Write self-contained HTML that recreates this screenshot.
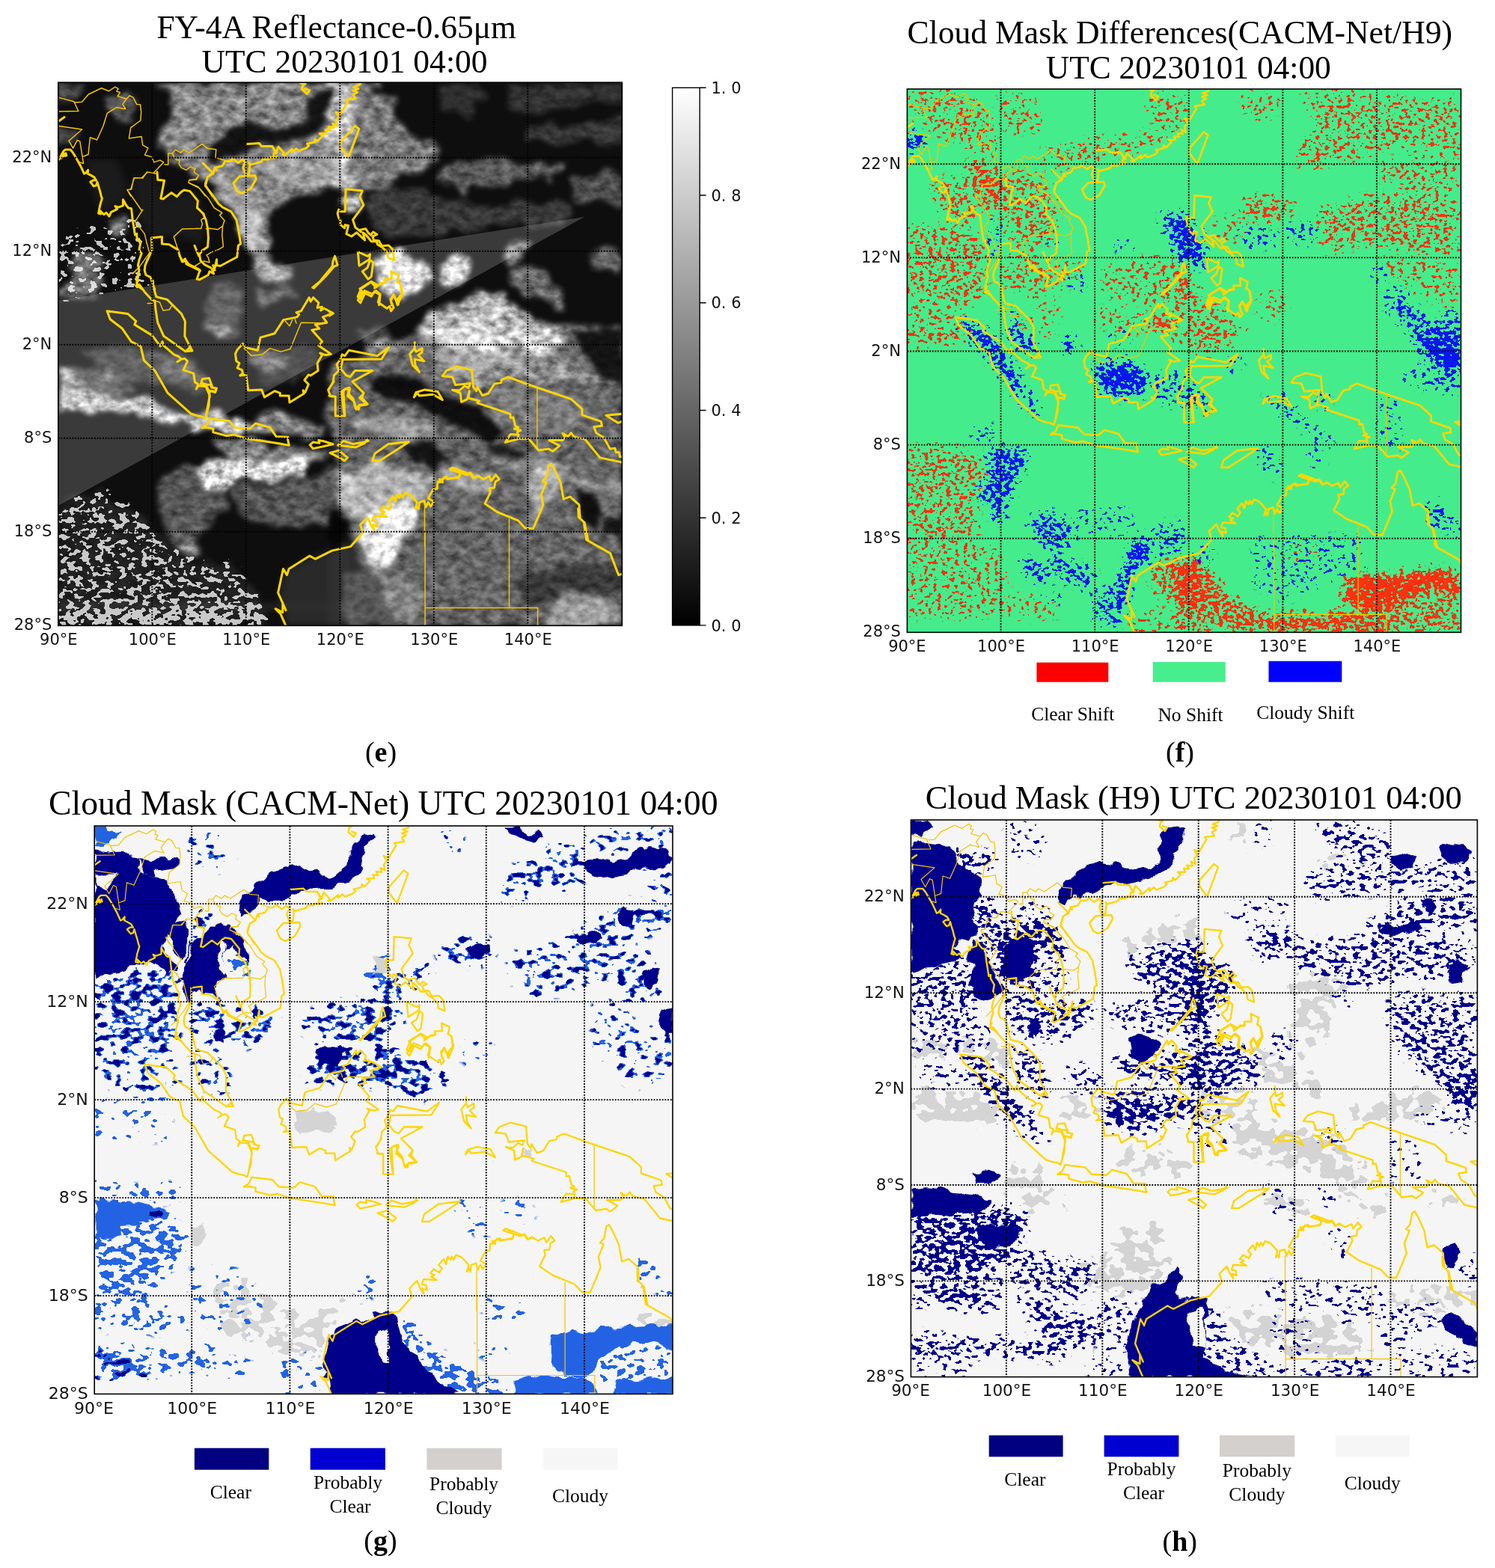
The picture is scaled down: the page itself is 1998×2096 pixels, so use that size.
<!DOCTYPE html>
<html lang="en"><head><meta charset="utf-8"><title>Cloud mask comparison UTC 20230101 04:00</title>
<style>html,body{margin:0;padding:0;background:#fff}body{width:1998px;height:2096px;overflow:hidden}svg{display:block}text{white-space:pre}</style>
</head><body>
<svg width="1998" height="2096" viewBox="0 0 1998 2096">
<defs><clipPath id="clip1"><rect x="77.8" y="110.2" width="753.6" height="726.1"/></clipPath><clipPath id="clip2"><rect x="1212.4" y="119" width="740.1" height="726.3"/></clipPath><clipPath id="clip3"><rect x="126.2" y="1104" width="772.8" height="759.4"/></clipPath><clipPath id="clip4"><rect x="1217.4" y="1096" width="757" height="744.6"/></clipPath><linearGradient id="cbar" x1="0" y1="0" x2="0" y2="1"><stop offset="0" stop-color="#fff"/><stop offset="1" stop-color="#000"/></linearGradient><filter id="rag1" x="47.8" y="80.2" width="813.6" height="786.1" filterUnits="userSpaceOnUse" color-interpolation-filters="sRGB"><feTurbulence type="fractalNoise" baseFrequency="0.06" numOctaves="2" seed="4" result="n"/><feDisplacementMap in="SourceGraphic" in2="n" scale="14" xChannelSelector="R" yChannelSelector="G"/></filter><filter id="spk1_0" x="47.8" y="80.2" width="813.6" height="786.1" filterUnits="userSpaceOnUse" color-interpolation-filters="sRGB"><feGaussianBlur in="SourceGraphic" stdDeviation="5" result="b"/><feTurbulence type="fractalNoise" baseFrequency="0.10 0.14" numOctaves="2" seed="6" result="n"/><feColorMatrix in="n" type="matrix" values="0 0 0 0 0  0 0 0 0 0  0 0 0 0 0  2.4 0 0 0 -0.7" result="na"/><feComposite in="na" in2="b" operator="arithmetic" k1="0" k2="1" k3="1" k4="-1" result="t"/><feComponentTransfer in="t" result="m"><feFuncA type="linear" slope="10" intercept="0"/></feComponentTransfer><feComposite in="b" in2="m" operator="in" result="c"/><feComponentTransfer in="c"><feFuncA type="linear" slope="40" intercept="0"/></feComponentTransfer></filter><filter id="rag2" x="1182.4" y="89" width="800.1" height="786.3" filterUnits="userSpaceOnUse" color-interpolation-filters="sRGB"><feTurbulence type="fractalNoise" baseFrequency="0.06" numOctaves="2" seed="5" result="n"/><feDisplacementMap in="SourceGraphic" in2="n" scale="14" xChannelSelector="R" yChannelSelector="G"/></filter><filter id="spk2_0" x="1182.4" y="89" width="800.1" height="786.3" filterUnits="userSpaceOnUse" color-interpolation-filters="sRGB"><feGaussianBlur in="SourceGraphic" stdDeviation="6" result="b"/><feTurbulence type="fractalNoise" baseFrequency="0.17 0.22" numOctaves="2" seed="13" result="n"/><feColorMatrix in="n" type="matrix" values="0 0 0 0 0  0 0 0 0 0  0 0 0 0 0  2.4 0 0 0 -0.7" result="na"/><feComposite in="na" in2="b" operator="arithmetic" k1="0" k2="1" k3="1" k4="-1" result="t"/><feComponentTransfer in="t" result="m"><feFuncA type="linear" slope="10" intercept="0"/></feComponentTransfer><feComposite in="b" in2="m" operator="in" result="c"/><feComponentTransfer in="c"><feFuncA type="linear" slope="40" intercept="0"/></feComponentTransfer></filter><filter id="spk2_1" x="1182.4" y="89" width="800.1" height="786.3" filterUnits="userSpaceOnUse" color-interpolation-filters="sRGB"><feGaussianBlur in="SourceGraphic" stdDeviation="6" result="b"/><feTurbulence type="fractalNoise" baseFrequency="0.16 0.21" numOctaves="2" seed="31" result="n"/><feColorMatrix in="n" type="matrix" values="0 0 0 0 0  0 0 0 0 0  0 0 0 0 0  2.4 0 0 0 -0.7" result="na"/><feComposite in="na" in2="b" operator="arithmetic" k1="0" k2="1" k3="1" k4="-1" result="t"/><feComponentTransfer in="t" result="m"><feFuncA type="linear" slope="10" intercept="0"/></feComponentTransfer><feComposite in="b" in2="m" operator="in" result="c"/><feComponentTransfer in="c"><feFuncA type="linear" slope="40" intercept="0"/></feComponentTransfer></filter><filter id="rag3" x="96.2" y="1074" width="832.8" height="819.4" filterUnits="userSpaceOnUse" color-interpolation-filters="sRGB"><feTurbulence type="fractalNoise" baseFrequency="0.06" numOctaves="2" seed="6" result="n"/><feDisplacementMap in="SourceGraphic" in2="n" scale="14" xChannelSelector="R" yChannelSelector="G"/></filter><filter id="spk3_0" x="96.2" y="1074" width="832.8" height="819.4" filterUnits="userSpaceOnUse" color-interpolation-filters="sRGB"><feGaussianBlur in="SourceGraphic" stdDeviation="6" result="b"/><feTurbulence type="fractalNoise" baseFrequency="0.08 0.12" numOctaves="2" seed="14" result="n"/><feColorMatrix in="n" type="matrix" values="0 0 0 0 0  0 0 0 0 0  0 0 0 0 0  2.4 0 0 0 -0.7" result="na"/><feComposite in="na" in2="b" operator="arithmetic" k1="0" k2="1" k3="1" k4="-1" result="t"/><feComponentTransfer in="t" result="m"><feFuncA type="linear" slope="10" intercept="0"/></feComponentTransfer><feComposite in="b" in2="m" operator="in" result="c"/><feComponentTransfer in="c"><feFuncA type="linear" slope="40" intercept="0"/></feComponentTransfer></filter><filter id="spk3_1" x="96.2" y="1074" width="832.8" height="819.4" filterUnits="userSpaceOnUse" color-interpolation-filters="sRGB"><feGaussianBlur in="SourceGraphic" stdDeviation="6" result="b"/><feTurbulence type="fractalNoise" baseFrequency="0.09 0.12" numOctaves="2" seed="26" result="n"/><feColorMatrix in="n" type="matrix" values="0 0 0 0 0  0 0 0 0 0  0 0 0 0 0  2.4 0 0 0 -0.7" result="na"/><feComposite in="na" in2="b" operator="arithmetic" k1="0" k2="1" k3="1" k4="-1" result="t"/><feComponentTransfer in="t" result="m"><feFuncA type="linear" slope="10" intercept="0"/></feComponentTransfer><feComposite in="b" in2="m" operator="in" result="c"/><feComponentTransfer in="c"><feFuncA type="linear" slope="40" intercept="0"/></feComponentTransfer></filter><filter id="spk3_2" x="96.2" y="1074" width="832.8" height="819.4" filterUnits="userSpaceOnUse" color-interpolation-filters="sRGB"><feGaussianBlur in="SourceGraphic" stdDeviation="6" result="b"/><feTurbulence type="fractalNoise" baseFrequency="0.06 0.08" numOctaves="2" seed="40" result="n"/><feColorMatrix in="n" type="matrix" values="0 0 0 0 0  0 0 0 0 0  0 0 0 0 0  2.4 0 0 0 -0.7" result="na"/><feComposite in="na" in2="b" operator="arithmetic" k1="0" k2="1" k3="1" k4="-1" result="t"/><feComponentTransfer in="t" result="m"><feFuncA type="linear" slope="10" intercept="0"/></feComponentTransfer><feComposite in="b" in2="m" operator="in" result="c"/><feComponentTransfer in="c"><feFuncA type="linear" slope="40" intercept="0"/></feComponentTransfer></filter><filter id="rag4" x="1187.4" y="1066" width="817" height="804.6" filterUnits="userSpaceOnUse" color-interpolation-filters="sRGB"><feTurbulence type="fractalNoise" baseFrequency="0.06" numOctaves="2" seed="7" result="n"/><feDisplacementMap in="SourceGraphic" in2="n" scale="14" xChannelSelector="R" yChannelSelector="G"/></filter><filter id="spk4_0" x="1187.4" y="1066" width="817" height="804.6" filterUnits="userSpaceOnUse" color-interpolation-filters="sRGB"><feGaussianBlur in="SourceGraphic" stdDeviation="6" result="b"/><feTurbulence type="fractalNoise" baseFrequency="0.07 0.10" numOctaves="2" seed="15" result="n"/><feColorMatrix in="n" type="matrix" values="0 0 0 0 0  0 0 0 0 0  0 0 0 0 0  2.4 0 0 0 -0.7" result="na"/><feComposite in="na" in2="b" operator="arithmetic" k1="0" k2="1" k3="1" k4="-1" result="t"/><feComponentTransfer in="t" result="m"><feFuncA type="linear" slope="10" intercept="0"/></feComponentTransfer><feComposite in="b" in2="m" operator="in" result="c"/><feComponentTransfer in="c"><feFuncA type="linear" slope="40" intercept="0"/></feComponentTransfer></filter><filter id="spk4_1" x="1187.4" y="1066" width="817" height="804.6" filterUnits="userSpaceOnUse" color-interpolation-filters="sRGB"><feGaussianBlur in="SourceGraphic" stdDeviation="6" result="b"/><feTurbulence type="fractalNoise" baseFrequency="0.12 0.17" numOctaves="2" seed="27" result="n"/><feColorMatrix in="n" type="matrix" values="0 0 0 0 0  0 0 0 0 0  0 0 0 0 0  2.4 0 0 0 -0.7" result="na"/><feComposite in="na" in2="b" operator="arithmetic" k1="0" k2="1" k3="1" k4="-1" result="t"/><feComponentTransfer in="t" result="m"><feFuncA type="linear" slope="10" intercept="0"/></feComponentTransfer><feComposite in="b" in2="m" operator="in" result="c"/><feComponentTransfer in="c"><feFuncA type="linear" slope="40" intercept="0"/></feComponentTransfer></filter><filter id="spk4_2" x="1187.4" y="1066" width="817" height="804.6" filterUnits="userSpaceOnUse" color-interpolation-filters="sRGB"><feGaussianBlur in="SourceGraphic" stdDeviation="6" result="b"/><feTurbulence type="fractalNoise" baseFrequency="0.06 0.08" numOctaves="2" seed="41" result="n"/><feColorMatrix in="n" type="matrix" values="0 0 0 0 0  0 0 0 0 0  0 0 0 0 0  2.4 0 0 0 -0.7" result="na"/><feComposite in="na" in2="b" operator="arithmetic" k1="0" k2="1" k3="1" k4="-1" result="t"/><feComponentTransfer in="t" result="m"><feFuncA type="linear" slope="10" intercept="0"/></feComponentTransfer><feComposite in="b" in2="m" operator="in" result="c"/><feComponentTransfer in="c"><feFuncA type="linear" slope="40" intercept="0"/></feComponentTransfer></filter><filter id="soft1" x="47.8" y="80.2" width="813.6" height="786.1" filterUnits="userSpaceOnUse" color-interpolation-filters="sRGB"><feGaussianBlur stdDeviation="5"/></filter><filter id="cld1" x="47.8" y="80.2" width="813.6" height="786.1" filterUnits="userSpaceOnUse" color-interpolation-filters="sRGB"><feTurbulence type="fractalNoise" baseFrequency="0.035" numOctaves="2" seed="3" result="dn"/><feDisplacementMap in="SourceGraphic" in2="dn" scale="30" xChannelSelector="R" yChannelSelector="G" result="ds"/><feGaussianBlur in="ds" stdDeviation="3.5" result="b"/><feTurbulence type="fractalNoise" baseFrequency="0.07 0.10" numOctaves="3" seed="7" result="n"/><feColorMatrix in="n" type="matrix" values="0 0 0 0 1  0 0 0 0 1  0 0 0 0 1  1.3 0 0 0 -0.15" result="na"/><feComposite in="b" in2="na" operator="arithmetic" k1="1.1" k2="0.45" k3="0" k4="0"/></filter><filter id="cld1b" x="47.8" y="80.2" width="813.6" height="786.1" filterUnits="userSpaceOnUse" color-interpolation-filters="sRGB"><feTurbulence type="fractalNoise" baseFrequency="0.035" numOctaves="2" seed="3" result="dn"/><feDisplacementMap in="SourceGraphic" in2="dn" scale="30" xChannelSelector="R" yChannelSelector="G" result="ds"/><feGaussianBlur in="ds" stdDeviation="3" result="b"/><feTurbulence type="fractalNoise" baseFrequency="0.08 0.11" numOctaves="3" seed="19" result="n"/><feColorMatrix in="n" type="matrix" values="0 0 0 0 1  0 0 0 0 1  0 0 0 0 1  1.3 0 0 0 -0.15" result="na"/><feComposite in="b" in2="na" operator="arithmetic" k1="1.1" k2="0.45" k3="0" k4="0"/></filter><filter id="drk1" x="47.8" y="80.2" width="813.6" height="786.1" filterUnits="userSpaceOnUse" color-interpolation-filters="sRGB"><feTurbulence type="fractalNoise" baseFrequency="0.05" numOctaves="2" seed="41" result="n"/><feDisplacementMap in="SourceGraphic" in2="n" scale="14" xChannelSelector="R" yChannelSelector="G" result="d"/><feGaussianBlur in="d" stdDeviation="3"/></filter></defs>
<rect width="1998" height="2096" fill="#fff"/>
<g id="panel1">
<g clip-path="url(#clip1)"><rect x="77.8" y="110.2" width="753.6" height="726.1" fill="#0e0e0e"/><path d="M77 402L781.5 289.8L77 676.6Z" fill="#3a3a3a"/><g filter="url(#soft1)" fill="#343434"><path d="M112.7 213L155.4 213L170.3 251.4L163.9 272.7L134 285.5L123.4 251.4Z" fill-opacity="0.35"/><path d="M176.7 238.6L206.6 230L219.4 264.2L262.1 255.7L274.9 294.1L270.6 326.1L236.5 315.4L206.6 319.7L185.2 294.1Z" fill-opacity="0.35"/><path d="M381.6 762.9L411.5 745.9L469.9 728.8L469.9 836.6L381.6 836.6L373 792.8Z" fill-opacity="0.70"/><path d="M78.5 807.7L445.6 807.7L445.6 814.1L78.5 814.1Z" fill-opacity="0.80"/><path d="M440 728.8L465.6 724.5L493.4 760.8L521.1 803.5L536 836.6L440 836.6Z" fill-opacity="0.80"/></g><g filter="url(#spk1_0)" fill="#c4c4c4"><path d="M78.5 315.4L187.4 294.1L198 379.4L78.5 400.8Z" fill-opacity="0.27"/><path d="M78.5 675.4L134 654.1L198 696.8L219.4 728.8L262.1 750.1L304.8 750.1L326.1 771.5L347.4 803.5L358.1 836.6L78.5 836.6Z" fill-opacity="0.36"/><path d="M78.5 814.1L347.4 809.9L358.1 836.6L78.5 836.6Z" fill-opacity="0.43"/></g><g filter="url(#cld1)" fill="#ffffff"><path d="M206.6 110.5L469.9 110.5L469.9 251.4L432.8 255.7L390.1 264.2L368.8 277L353.8 294.1L347.4 315.4L336.8 332.5L321.8 328.2L315.4 294.1L300.5 272.7L283.4 251.4L270.6 238.6L257.8 230L240.7 225.8L227.9 208.7L219.4 200.2L210.9 183.1L219.4 166L232.2 144.7L219.4 123.3Z" fill-opacity="0.50"/><path d="M140.4 129.7L166 123.3L185.2 134L176.7 155.4L155.4 157.5L142.6 144.7Z" fill-opacity="0.30"/><path d="M78.5 172.4L108.4 172.4L95.6 191.6L78.5 191.6Z" fill-opacity="0.25"/><path d="M78.5 110.5L112.7 110.5L102 127.6L78.5 136.1Z" fill-opacity="0.25"/><path d="M144.7 294.1L166 289.8L170.3 306.9L151.1 315.4Z" fill-opacity="0.50"/><path d="M102 336.8L123.4 332.5L134 358.1L112.7 379.4L99.9 368.8Z" fill-opacity="0.40"/><path d="M78.5 379.4L112.7 368.8L144.7 379.4L134 396.5L91.3 400.8L78.5 396.5Z" fill-opacity="0.40"/><path d="M336.8 336.8L368.8 347.4L390.1 370.9L379.5 379.4L347.4 368.8Z" fill-opacity="0.60"/><path d="M274.9 379.4L304.8 375.2L326.1 400.8L321.8 443.5L294.1 454.1L274.9 432.8Z" fill-opacity="0.22"/><path d="M336.8 390.1L390.1 385.8L400.8 400.8L347.4 405Z" fill-opacity="0.30"/><path d="M78.5 496.8L102 501.1L112.7 510L78.5 510Z" fill-opacity="0.70"/><path d="M112.7 469.1L176.7 460.5L219.4 475.5L262.1 486.1L283.4 510L134 510Z" fill-opacity="0.20"/><path d="M332.5 469.1L368.8 464.8L390.1 481.9L368.8 496.8L336.8 486.1Z" fill-opacity="0.30"/><path d="M440 110.5L504 110.5L529.6 134L525.4 155.4L546.7 176.7L576.6 191.6L589.4 204.4L576.6 221.5L546.7 230L525.4 240.7L504 251.4L472 251.4L440 259.9Z" fill-opacity="0.45"/><path d="M578.7 114.8L632.1 114.8L653.4 134L621.4 155.4L589.4 144.7Z" fill-opacity="0.14"/><path d="M674.8 114.8L760.1 110.5L831.6 110.5L831.6 134L760.1 144.7L706.8 155.4L674.8 144.7Z" fill-opacity="0.15"/><path d="M589.4 221.5L632.1 213L674.8 217.2L717.4 213L749.5 221.5L738.8 238.6L696.1 242.9L653.4 251.4L610.7 255.7L585.1 242.9Z" fill-opacity="0.32"/><path d="M706.8 170.3L760.1 166L831.6 155.4L831.6 191.6L781.5 191.6L738.8 195.9L706.8 187.4Z" fill-opacity="0.18"/><path d="M760.1 240.7L802.8 230L831.6 234.3L831.6 272.7L802.8 268.5L770.8 264.2Z" fill-opacity="0.28"/><path d="M493.4 255.7L546.7 251.4L610.7 264.2L653.4 272.7L696.1 268.5L760.1 272.7L760.1 294.1L696.1 302.6L632.1 306.9L568 315.4L514.7 315.4L493.4 294.1Z" fill-opacity="0.18"/><path d="M666.2 336.8L685.4 319.7L706.8 328.2L696.1 347.4L674.8 353.8Z" fill-opacity="0.55"/><path d="M610.7 400.8L642.7 390.1L674.8 396.5L696.1 411.5L717.4 432.8L749.5 443.5L760.1 460.5L738.8 469.1L696.1 464.8L653.4 469.1L610.7 464.8L578.7 454.1L557.4 439.2L568 422.1L589.4 411.5Z" fill-opacity="0.70"/><path d="M674.8 358.1L706.8 353.8L738.8 375.2L760.1 390.1L749.5 411.5L717.4 400.8L685.4 383.7Z" fill-opacity="0.40"/><path d="M781.5 336.8L813.5 332.5L831.6 347.4L824.1 368.8L792.1 358.1Z" fill-opacity="0.35"/><path d="M578.7 469.1L653.4 473.3L717.4 469.1L760.1 486.1L802.8 496.8L831.6 507.5L831.6 510L578.7 510Z" fill-opacity="0.30"/><path d="M472 443.5L504 439.2L546.7 454.1L536 469.1L493.4 464.8Z" fill-opacity="0.25"/><path d="M78.5 494L134 494L176.7 515.4L166 532.4L134 523.9L78.5 511.1Z" fill-opacity="0.30"/><path d="M283.4 592.2L326.1 590.1L368.8 596.5L411.5 600.7L443.5 611.4L432.8 622.1L390.1 617.8L347.4 611.4L304.8 607.1Z" fill-opacity="0.50"/><path d="M336.8 553.8L368.8 549.5L411.5 558L432.8 575.1L411.5 583.7L368.8 575.1Z" fill-opacity="0.50"/><path d="M215.1 643.4L240.7 626.3L262.1 622.1L257.8 639.1L272.7 652L294.1 656.2L304.8 675.4L283.4 696.8L262.1 718.1L251.4 739.5L230.1 728.8L215.1 696.8L210.9 664.8Z" fill-opacity="0.30"/><path d="M304.8 654.1L368.8 643.4L432.8 632.7L469.9 622.1L469.9 686.1L432.8 696.8L390.1 707.4L347.4 696.8L315.4 686.1Z" fill-opacity="0.30"/><path d="M78.5 675.4L134 654.1L198 696.8L219.4 728.8L262.1 750.1L304.8 750.1L326.1 771.5L347.4 803.5L358.1 836.6L78.5 836.6Z" fill-opacity="0.08"/><path d="M236.5 724.5L257.8 720.2L266.3 737.3L249.3 745.9Z" fill-opacity="0.45"/><path d="M272.7 434.3L304.8 434.3L315.4 451.3L294.1 455.6Z" fill-opacity="0.40"/><path d="M206.6 472.7L262.1 472.7L283.4 515.4L262.1 536.7L230.1 515.4Z" fill-opacity="0.15"/><path d="M336.8 472.7L411.5 462L432.8 494L390.1 515.4L347.4 504.7Z" fill-opacity="0.12"/><path d="M452.8 485.5L504 455.6L589.4 442.8L831.6 434.3L831.6 836.6L529.6 836.6L510.4 792.8L482.7 750.1L465.6 718.1L461.3 675.4L448.5 622.1L440 579.4L440 526Z" fill-opacity="0.36"/></g><g filter="url(#drk1)" fill="#060606"><path d="M274.9 208.7L283.4 193.8L296.2 183.1L313.3 170.3L330.4 161.8L347.4 166L364.5 174.6L381.6 174.6L398.7 170.3L411.5 157.5L407.2 144.7L415.7 127.6L432.8 119.1L449.9 119.1L449.9 127.6L437.1 144.7L432.8 166L420 178.8L402.9 185.2L385.9 189.5L368.8 193.8L347.4 191.6L334.6 200.2L317.6 208.7L296.2 208.7L283.4 221.5Z" fill-opacity="0.90"/><path d="M493.4 504.7L536 500.4L568 511.1L589.4 532.4L632.1 541L653.4 558L674.8 579.4L653.4 592.2L632.1 579.4L602.2 566.6L576.6 549.5L546.7 536.7L514.7 532.4L493.4 521.8Z" fill-opacity="0.90"/><path d="M536 592.2L568 587.9L589.4 605L610.7 622.1L589.4 630.6L568 622.1L546.7 611.4Z" fill-opacity="0.85"/><path d="M653.4 592.2L685.4 596.5L706.8 611.4L685.4 617.8L653.4 609.3Z" fill-opacity="0.80"/><path d="M770.8 442.8L831.6 438.5L831.6 515.4L802.8 504.7L781.5 472.7Z" fill-opacity="0.85"/><path d="M768.7 660.5L790 656.2L802.8 675.4L798.5 707.4L781.5 696.8L772.9 681.8Z" fill-opacity="0.90"/><path d="M802.8 696.8L831.6 686.1L831.6 718.1L807.1 716Z" fill-opacity="0.80"/><path d="M440 675.4L457.1 681.8L461.3 707.4L452.8 733L440 737.3Z" fill-opacity="0.90"/><path d="M685.4 771.5L738.8 760.8L792.1 750.1L831.6 760.8L831.6 792.8L781.5 797.1L738.8 809.9L696.1 805.6Z" fill-opacity="0.45"/></g><g filter="url(#cld1b)" fill="#ffffff"><path d="M321.8 289.8L347.4 283.4L360.2 304.7L356 332.5L343.2 341L330.4 332.5L324 311.1Z" fill-opacity="0.50"/><path d="M270.6 238.6L294.1 234.3L326.1 251.4L347.4 283.4L326.1 294.1L309 277L287.7 255.7Z" fill-opacity="0.25"/><path d="M347.4 208.7L411.5 204.4L469.9 198L469.9 240.7L411.5 247.1L368.8 240.7Z" fill-opacity="0.20"/><path d="M461.3 255.7L482.7 255.7L487 272.7L478.4 289.8L461.3 283.4Z" fill-opacity="0.70"/><path d="M504 341L529.6 336.8L559.5 343.2L576.6 358.1L572.3 379.4L555.2 392.2L536 400.8L514.7 396.5L504 375.2Z" fill-opacity="0.85"/><path d="M585.1 358.1L606.5 341L627.8 345.3L623.5 370.9L606.5 385.8L589.4 379.4Z" fill-opacity="0.80"/><path d="M78.5 511.1L102 515.4L134 523.9L166 532.4L198 536.7L230.1 549.5L262.1 558L283.4 549.5L304.8 558L326.1 566.6L347.4 562.3L368.8 575.1L347.4 583.7L315.4 579.4L283.4 575.1L262.1 570.9L230.1 566.6L198 553.8L166 549.5L134 558L102 549.5L78.5 553.8Z" fill-opacity="0.75"/><path d="M262.1 622.1L294.1 611.4L315.4 607.1L347.4 611.4L379.5 617.8L411.5 613.5L402.9 634.9L368.8 639.1L336.8 643.4L315.4 647.7L294.1 656.2L272.7 652L257.8 639.1Z" fill-opacity="0.85"/><path d="M482.7 696.8L514.7 675.4L546.7 664.8L559.5 681.8L546.7 707.4L529.6 728.8L521.1 750.1L504 760.8L487 739.5L478.4 718.1Z" fill-opacity="0.90"/><path d="M452.8 632.7L493.4 622.1L536 626.3L578.7 643.4L576.6 664.8L546.7 664.8L514.7 675.4L482.7 696.8L461.3 686.1L452.8 664.8Z" fill-opacity="0.50"/><path d="M589.4 613.5L610.7 622.1L632.1 632.7L653.4 639.1L664.1 654.1L642.7 664.8L610.7 654.1L589.4 639.1Z" fill-opacity="0.40"/><path d="M706.8 632.7L738.8 622.1L749.5 643.4L738.8 675.4L717.4 696.8L706.8 675.4Z" fill-opacity="0.45"/><path d="M653.4 600.7L696.1 605L738.8 617.8L781.5 634.9L813.5 643.4L831.6 639.1L831.6 660.5L802.8 656.2L760.1 643.4L717.4 632.7L674.8 622.1Z" fill-opacity="0.25"/><path d="M557.4 434.3L632.1 434.3L674.8 442.8L696.1 462L674.8 483.4L632.1 494L589.4 483.4L568 462Z" fill-opacity="0.25"/><path d="M472 558L525.4 553.8L568 562.3L589.4 579.4L546.7 583.7L504 579.4L472 575.1Z" fill-opacity="0.40"/><path d="M642.7 526L696.1 515.4L760.1 526L792.1 547.4L781.5 568.7L738.8 579.4L696.1 575.1L653.4 558Z" fill-opacity="0.15"/><path d="M728.1 814.1L760.1 792.8L802.8 797.1L824.1 814.1L831.6 836.6L728.1 836.6Z" fill-opacity="0.40"/><path d="M461.3 760.8L504 760.8L546.7 782.1L568 814.1L546.7 836.6L461.3 836.6Z" fill-opacity="0.20"/></g></g>
<g clip-path="url(#clip1)" fill="none" stroke-linejoin="round" stroke-linecap="round"><path d="M79.2 130.6L98.8 135.8L104.8 148.6L79.2 149M100 137L109.6 136.2L118 126.2L135.6 117.8L145.2 121.8L154 116.2L158 118.6L156 122.2L160.4 123.4L157.2 128.6L169.1 132.2L173.1 127.8L177.9 130.2L182.7 139.4L187.5 139.8L188.7 149.8L187.9 161L174.7 170.6L172.3 185L189.1 182.6L190.7 193.8L197.9 197.8L193.5 207.3L202.7 209.7L205.9 216.9L213.9 214.1L218.7 216.9M169.1 132.2L163.9 139.4L167.9 145.8L156 143.4L143.2 151.4L138 168.2L129.6 187L120.4 183.8L118 206.5L110 209.7L111.6 218.5L106.4 216.9M79.2 168.6L109.6 173L92 188.2L97.6 198.2L103.2 187.4L106.8 189L110 208.9M218.7 216.9L205.1 231.3L197.1 230.1L189.1 238.1L179.5 237.7L174.7 252.9L169.9 253.7L174.7 262M205.1 231.3L209.9 232.9L210.7 240.1L218.7 240.9L216.3 262M220 220.1L224.8 220.1L224.8 204.9L230.4 204.9L234.4 200.1L241.6 204.1L245.6 200.1L252.8 204.1L270 192.6L277.6 198.6L288.8 199.7L288 210.5L300.8 214.5M230.4 204.9L232.8 209.7L236 213.7L240 213.7L239.2 219.3L242.4 224.1L248.8 227.3L254.4 222.9L260.8 225.7L259.2 230.1L265.6 234.5L262.4 240.1L252.8 240.9L252 244.1L264.8 249.7L274.4 262M200.4 337.1L186 357.1L177.2 365.9M196.4 230L190.8 238L178.8 238L175.6 253.2L170 253.6L189.2 281.2L190.8 280.4L180.4 296.4L193.2 312.4L196.4 325.9L199.6 337.1M237.9 333.9L232.3 316.4L243.5 306L261.1 305.6M265.6 234.8L261.6 239.6L252.8 240.4L252 244.4L266.4 251.6L278.4 265.2L286.4 278L296.8 284.4L293.6 287.6L300 294.8L297.6 302L291.2 306.8L280 305.2L275.2 306M297.6 302L296.8 314L298.4 329.9L291.2 333.9L282.4 337.1L276 341.1L278.4 344.3L280 350.7L272 349.1M260.8 305.6L268.8 305.6L270.4 298.8L268.8 294L272 291.6L275.2 294M269.6 349.9L260.8 355.5M197.1 405.4L203.4 405.4M207 402.2L213.4 404L217.9 414.9L226.1 414L229.7 408.5M326.2 465.6L336.2 475.6L350.7 473.8L360.7 465.6L375.2 470.1L387.9 466.5L402.4 431.2L436.8 432.1M381.5 429.4L387 435.7L390.6 427.6M394.2 426.7L396 432.1M717.9 520L717.9 598.6M567.5 677.9L567.5 730M568.1 712.2L568.1 836.6M568.1 812.4L590 812.4M680.5 693.9L680.5 811.7M580 812.4L718.6 812.4L718.6 836.6" stroke="#f5c400" stroke-width="1.5"/><path d="M79.2 212.9L82 207.3L84.8 202.1L87.2 200.1L94 200.1L97.2 203.7L100.4 208.9L103.6 214.5L107.6 221.7L112.4 232.1L114.8 230.9L117.6 227.3L117.2 232.1L121.2 234.1L126 236.9L128.4 240.9L124.4 240.9L120.8 243.3L125.2 248.9L128.4 248.1L130 243.3L131.6 248.9L134 256.9L135.2 262M82 211.3L85.2 204.9L86 209.7L88 204.9L88.8 208.1M79.2 161.4L86 156.6M284 262L275.2 248.9L274.4 245.7L277.6 236.1L284.8 232.1L286.4 226.5L289.6 227.3L287.2 224.1L296.8 222.1L300.8 215.7L308 215.3L311.2 212.1L318.3 217.7L323.9 213.3L328.3 216.9L326.3 220.1L324.7 224.1L327.9 232.9L332.7 232.9L333.9 220.1L332.7 217.7L335.1 220.1L349.5 216.1L351.1 212.9L359.1 212.9L360.7 210.5L366.3 211.3L370 208.9M271.2 218.1L284 230.9M319.9 235.7L340.7 234.5L342.3 239.3L335.1 252.1L323.1 258.5L316.7 255.3L312 244.9L319.9 235.7M329.9 192.6L346.3 191.4L349.5 195.4L363.9 195.4L367.1 200.9L370 204.1M135.2 262L136.4 265.2L133.6 274.8L131.6 285.2L134.8 286L134 282L138.8 286.8L142 284.4L146 289.2L148.4 283.6L156.4 279.6L154 275.6L158 277.2L164.4 274.8L164.4 266.8L168.4 274L171.6 278L175.6 278.8L177.2 294L178.8 303.6L180.4 314L182.8 312.4L182.8 317.2L187.6 325.1L186 333.9L189.2 338.7L186 347.5L184.4 354.7L186 361.1L182.8 373.1L182.8 381.9L186 383.5L190.8 387M206.8 387L203.6 377.9L201.2 370.7L194.8 367.5L193.2 361.1L194 354.7L200.4 340.3L203.2 333.9L202.4 318L216.4 316.4L216.4 325.9L225.9 326.7L237.9 333.9L240.3 341.9L243.5 349.9L247.5 345.9L249.1 353.1L256.3 356.3L267.5 361.9M210 230L210.8 240.4L219.6 241.2L214.8 265.2L218 266L229.1 257.6L236.3 262.8L241.9 256.8L245.9 254L253.9 255.6L264.3 268.4L263.5 278L272.3 286M284.8 230.8L277.6 236.4L274.4 248.4L284.8 262L292 272.4L297.6 277.2L308.8 282.8L316 294L319.2 310L321.6 325.9L318.4 328.3L316.8 343.5L294.4 355.5L289.6 354.7L289.6 346.7L287.2 357.9L284.8 354.7L287.2 361.1L283.2 359.5L285.6 365.9L280 362.7L278.4 367.5L266.4 373.9L263.2 373.1L267.2 361.1L261.6 357.9L252 353.1L248 347.5L244.8 349.9L240 341.9M264 278L271.2 285.2L275.2 294L277.6 305.2L278.4 318L277.6 329.9L270.4 334.7L266.4 340.3L268 348.3L273.6 353.9L281.6 357.9M260 328.3L265.6 341.9M360 195.4L364 195.8L368.8 204.9L366 204.9L365.6 210.5L361.6 210.5M368.8 204.9L372 196.2L380 204.9L377.6 206.5L380.8 207.3L390.4 199.3L390.4 203.3L396 198.6L399.2 201.7L409.6 197.8L412.8 194.6L410.4 192.2L420.8 189.8L420.8 185.8L424 189L431.2 181.8L427.2 178.6L436.8 178.6L435.2 173.8L441.6 174.6L439.2 169.8L446.4 170.6L444.8 165L450.4 168.2L448.8 161L452.8 156.2L448.8 149.8L455.1 152.2L464.7 136.2L462.3 133.4L475.1 131.4L471.9 126.6L477.5 123.4L471.9 121L479.1 118.6L472.7 116.2L479.9 113.8L481.5 111M401.6 111L408 112.2L404.8 113.8L403.6 119.4L410.4 125.4L413.6 120.6L407.6 118.6M474.3 168.2L479.9 172.2L466.3 208.9L463.9 208.1L455.1 196.2L455.9 189L474.3 168.2M462.1 252.8L484.3 254.9L480.9 263L486 274.1L471.5 293.8L474.9 304L482.6 310L480.9 307.4L488.5 305.7L492 310.9L495.4 314.3L498.8 310L503.9 313.4L497.9 316L499.6 321.1L506.5 322L508.2 325.4L510.7 328.8L519.3 327.9L524.4 333L527 347.6L518.4 344.1L517.6 337.3L510.7 330.5L504.8 327.1L503 322.8L496.2 322.8L489.4 314.3L485.1 310.9L487.7 321.1L476.6 310.9L469.8 316L462.9 312.6L465.5 301.5L461.2 300.6L460.4 304.9L454.4 299.8L455.2 295.5L452.7 291.2L451 285.2L452.7 280.1L455.2 282.7L461.2 282.7L462.1 252.8M478.3 336.5L491.1 342.4L494.5 339.9L493.7 346.7L480 355.2L478.3 336.5M494.5 347.6L498.8 351L496.2 369.8L492 373.2L484.3 362.9L491.1 357.8L494.5 347.6M531.2 407.7L538 392.8L535.5 380L531.2 376.6L532.9 368L522.7 362.9L523.5 373.2L514.1 373.2L515 378.3L509 378.3L500.5 385.1L503.9 380.9L496.2 376.2L480.9 386L484.3 390.2L478.3 401.3L481.7 404.8L487.7 392L496.2 396.2L500.5 389.4L508.2 394.5L506.5 407.7M523.5 407.7L521.8 399.6L526.1 394.5L529.5 402.2L531.2 407.7M417.7 384.3L427.1 376.6L439 362.1L444.1 356.1L445 349.3L447.6 342.4L451 354.4L446.7 356.1L434.8 369.8L419.4 385.1L417.7 384.3M184.4 375L181.7 382.2L186.2 380.4L193.4 390.4L203.4 401.3L207 402.2L207.9 413.1L210.7 431.2L218.8 449.3L236.9 462L247.8 469.7L256.9 468.8L250.5 456.6L246.9 449.3L247.4 429.4L242.4 419.4L231.5 408.5L223.3 400.4L208.8 396.7L205.2 384.1L204.3 375M249.6 468.3L253.2 464.7L256.9 468.8M143.1 415.8L170.8 419.4L181.7 429.4L179.8 433.9L203.4 448.4L214.3 462.9L217 456.6L218.8 462L232.4 473.8L238.7 476.5L242.4 480.1L236.9 483.7L242.4 480.1L246.9 479.2L250.5 482.8L245.1 494.6L258.7 499.1L260.5 510.9L265 513.6L262.3 520L265 515.5L275 516.4L280.4 529.1L278.6 538.1L275.9 553M143.1 415.8L147.2 426.7L163.5 439.3L175.3 456.6L188 462.9L192.5 481.9L207 495.5L224.2 525.4L255.1 553M268.6 512.7L270.5 506.4L279.5 505.5L284.1 518.2L289.5 519.1L287.7 524.5L278.6 521.8L275 513.6L268.6 512.7M324.4 459.3L317.2 467.4L314.5 472.9L315.8 482.8L319.9 485.6L317.2 491.9L323.5 494.6L324.4 499.1L320.8 501.9L329 501L331.7 521.8L349.8 520.9L353.4 530.9L367 522.7L374.3 525.4L374.3 529.1L386.1 529.1L387 538.1L406 526.3L405.1 521.8L407.8 524.5L412.3 513.6L406.9 508.2L412.3 501L415.1 501.9L425 495.5L424.1 485.6L430.5 474.7L427.7 472L435 474.7L442.2 473.3L425.9 462L430.5 456.6L416.9 441.2L426.8 439.3L421.4 433.9L436.8 431.2L431.4 423.9L445 418.5L433.2 412.2L428.6 414.9L430.5 410.3L424.1 411.2L425.9 404.9L418.7 397.7L415.1 403.1L413.2 397.7L402.4 415.8L396 417.6L399.6 420.3L396.9 423.9L378.8 427.6L367 445.7L348 451.1L344.4 468.3L329 464.7L324.4 459.3M514.3 375L513.4 378.6L508 379.5L502.5 384.1L498.9 380.4L496.2 376.8L482.6 385.9L478.1 396.7L481.7 399.5L487.1 388.6L498 393.1L502.5 388.6L508 393.1L505.2 404L517 412.2L520.7 409.4L522.5 415.8L526.1 411.2L522.5 402.2L526.1 394L532.4 406.7L531.5 399.5L537 393.1L535.1 379.5L530.6 376.8L531.5 375M440 520L445.4 510L446.3 501.9L452.7 495.5L450 487.4L454.5 481L457.2 473.8L460.8 475.6L466.3 468.3L504.3 475.6L519.7 464.3L509.8 480.1L458.1 480.6L455.4 492.8L462.7 501.9L468.1 503.7L474.4 495.5L498 495.5L470.8 510L486.2 525.4L480.8 531.8L490.7 540.8L479 542.6L476.2 547.2L473.5 537.2L464.5 529.1L467.2 518.2L462.7 519.1L456.3 523.6L459.9 553M440 529.1L448.2 530L448.2 553M554.2 457.5L554.2 465.6L547.8 472.9L551.5 488.3L560.5 497.3L555.1 488.3L554.2 480.1L566.9 482.8L558.7 474.7L564.1 471.1L564.1 465.6L556 470.1L554.2 465.6M553.3 530.9L556 524.5L567.8 520.9L585 523.6L591.3 534.5L578.6 527.2L560.5 529.1L557.8 525.4L553.3 530.9M440 416.7L445.4 418.9L440 422.1M591.3 502.6L596.7 495.3L610.7 490L630.6 494.6L632.6 517.3L636.6 522.6L638 517.3L644.6 528.6L652.6 526L660.6 513.3L670 511.3L670 508L679.3 504L705.9 514L763.2 533.3L777.9 546.6L777.9 554.6L803.2 563.3L804.6 569.3L793.9 570.6L796.6 578.6L807.2 585.3L815.2 599.9L821.9 599.3L823.2 604.6L827.2 604.6L828.5 610.6L831.2 610.6M591.3 502.6L604.7 504L608.7 514.6L628.6 512.6L626 518.6L620.7 516L614 522L604.7 521.3L615.3 525.3L616.7 537.3L624.6 533.3L627.3 522.6L626 532L640.6 536L638 538.6L646 541.3L682 553.3L682 558.6L685.9 557.9L688.6 569.3L692.6 571.3L687.3 573.3L695.9 575.3L691.3 577.3L693.3 586.6L704.6 586.6L706.6 586.6L719.9 601.9L733.3 599.9L738.6 603.3L747.9 595.9L733.9 588.6L751.9 588.6L755.2 584.6L751.9 579.3L759.2 583.3L763.2 578.6L767.2 583.9L781.9 587.3L801.9 611.9L831.2 617.9M693.3 581.3L682 580.6L675.3 591.3L693.3 586.6M831.2 553.3L809.9 555.3L825.9 565.3L831.2 563.3M590 643.9L594 637.9L598 640.6L614 637.2L614.7 631.9L605.3 625.2L601.3 627.2M614.7 631.9L623.3 634.6L628.6 633.2L632.6 639.2L638 635.9L646 640.6L654 636.6L656.6 642.6L662.6 634.6L667.3 640.6L662 643.9L660.6 651.9L654 652.6L655.3 658.6L648 673.2L664.6 684.5L692.6 695.9L701.9 705.9L712.6 706.5L720.6 687.9L725.9 674.6L723.3 661.2L729.9 645.2L725.3 643.2L730.6 637.2L733.3 622.6L736.6 619.9L740.6 626.6L749.2 645.2L753.2 667.2L761.9 663.9L773.9 674.6L775.2 693.2L781.2 698.5L785.9 722M270 512.1L276.4 514.3L281.7 514.3L282.8 518L289.2 519.1L287.6 523.3L280.1 522.3L279.1 542L276.4 551.6L274.3 559.1L270 557M270 571.9L276.4 567.6L280.1 559.6L306.3 562.8L314.8 571.9L334 573L341.5 566L360.7 571.4L369.2 583.6L385.2 584.2L384.7 587.9L386.3 595.4L372.4 592.7L329.8 586.3L312.7 581L303.1 582.6L284.9 577.8L284.9 573L276.4 571.4L270 571.9M446.1 510L438.6 521.2L441.8 529.7L448.2 530.3L448.2 555.9L461 555.9L458.9 523.9L459.9 520.7L465.3 519.6L467.4 530.3L470 533.5M414.1 594.8L418.3 591.1L426.9 592.2L425.8 588.4L433.3 590L445 593.8L431.1 597L418.3 599.6L414.1 594.8M467.7 520L465.6 526.4L472 532.8L475.2 545.6L479.5 547.2L480.5 541.3L491.2 540.3L483.7 531.7L485.9 525.3L480.5 520M451.7 595.2L459.2 589.4L472 593.6L487 591L492.3 589.4L490.2 587.8L487 592.6L475.2 597.9L461.3 596.3L451.7 595.2M441.1 605.4L452.8 602.2L464.5 611.8L460.3 616L454.9 612.3L441.1 605.4M497.6 616L500.8 606.4L519 593.6L546.7 590.4L530.7 601.1L507.2 616L497.6 616M484.8 712.1L481.6 701.4L491.2 691.8L495.5 701.4L499.8 707.8L498.2 701.4L504 703.5L503 697.1L497.6 696.1L499.8 689.7L516.8 690.7L509.4 686.5L513.6 684.3L508.3 682.2L512.6 676.9L520 681.1L523.2 675.8L519 671.5L525.4 664.1L528.6 670.5L530.7 660.9L533.9 665.1L536 660.9L538.2 665.1L541.4 658.7L548.8 661.9L557.4 671.5L555.2 680.1L557.4 676.9L559.5 680.1L560.6 671.5L567 669.4L569.1 677.9L572.3 671.5L575.5 676.9L579.8 670.5L572.3 666.2L578.7 654.5L584.1 653.4L585.1 643.8L588.3 644.8L587.3 640.6L591.5 644.8L590.5 640.6L596.9 637.4L599 639.5L612.9 638.4L615 632L602.2 627.8L604.3 625.1L615 628.8L625.7 633.1L628.9 632L633.1 638.4L640 636.3M382 836.6L375 820.7L368.1 813.7L377.8 818.6L377.8 806.1L382 815.8L377.1 804.7L371.6 792.3L378.5 760.4L383.4 768.7L386.1 760.4L413.8 743.1L421.5 747.2L443.6 736.1L468.6 730.6L484.8 712.2M772.6 680L773.3 691.1L780.3 698L783.7 721.6L815.6 739.6L826.7 768.7L830.9 767.3M255.1 553L263 555.5L270 557L274.3 559.1" stroke="#ffd500" stroke-width="3.0"/></g>
<path d="M203.3 110.2V836.3M328.8 110.2V836.3M454.3 110.2V836.3M579.8 110.2V836.3M705.3 110.2V836.3M77.8 210.8H831.4M77.8 335.8H831.4M77.8 460.8H831.4M77.8 585.8H831.4M77.8 710.8H831.4" fill="none" stroke="#000" stroke-width="1.9" stroke-dasharray="1.9 1.8"/>
<rect x="77.8" y="110.2" width="753.6" height="726.1" fill="none" stroke="#000" stroke-width="1.6"/>
<g font-family="'DejaVu Sans', 'Liberation Sans', sans-serif" font-size="21" fill="#111"><text x="69.3" y="217.1" text-anchor="end">22°N</text><text x="69.3" y="342.1" text-anchor="end">12°N</text><text x="69.3" y="467.1" text-anchor="end">2°N</text><text x="69.3" y="592.1" text-anchor="end">8°S</text><text x="69.3" y="717.1" text-anchor="end">18°S</text><text x="69.3" y="842.1" text-anchor="end">28°S</text><text x="78.3" y="861.5" text-anchor="middle">90°E</text><text x="203.8" y="861.5" text-anchor="middle">100°E</text><text x="329.3" y="861.5" text-anchor="middle">110°E</text><text x="454.8" y="861.5" text-anchor="middle">120°E</text><text x="580.3" y="861.5" text-anchor="middle">130°E</text><text x="705.8" y="861.5" text-anchor="middle">140°E</text></g>
</g>
<g id="panel2">
<g clip-path="url(#clip2)"><rect x="1212.4" y="119" width="740.1" height="726.3" fill="#45ec8b"/><g filter="url(#spk2_0)" fill="#ff3010"><path d="M1213.5 120.5L1258.4 120.5L1301 133.3L1324.5 154.7L1333 186.7L1324.5 208L1301 201.6L1269 186.7L1237 165.4L1213.5 154.7Z" fill-opacity="0.31"/><path d="M1337.3 124.8L1375.7 129.1L1388.5 154.7L1392.8 171.8L1354.4 176L1337.3 165.4Z" fill-opacity="0.26"/><path d="M1290.4 218.7L1311.7 214.4L1337.3 231.5L1341.6 261.4L1333 287L1320.2 282.7L1307.4 261.4L1294.6 240Z" fill-opacity="0.55"/><path d="M1247.7 240L1290.4 240L1307.4 282.7L1290.4 304.1L1269 293.4L1252 272.1Z" fill-opacity="0.36"/><path d="M1341.6 231.5L1367.2 227.2L1397.1 240L1409.9 265.7L1414.1 304.1L1397.1 325.4L1375.7 336.1L1354.4 325.4L1341.6 293.4Z" fill-opacity="0.36"/><path d="M1392.8 201.6L1418.4 197.4L1461.1 186.7L1503.8 182.4L1555 176L1555 193.1L1503.8 203.8L1461.1 214.4L1418.4 223L1397.1 231.5Z" fill-opacity="0.31"/><path d="M1533.7 124.8L1584.9 129.1L1584.9 165.4L1555 176L1537.9 154.7Z" fill-opacity="0.26"/><path d="M1213.5 304.1L1269 304.1L1311.7 314.7L1320.2 346.8L1316 389.4L1290.4 410.8L1247.7 400.1L1213.5 389.4Z" fill-opacity="0.36"/><path d="M1213.5 389.4L1269 410.8L1301 432.1L1279.7 464.1L1237 453.5L1213.5 464.1Z" fill-opacity="0.26"/><path d="M1337.3 346.8L1375.7 342.5L1397.1 357.4L1418.4 351L1450.4 357.4L1418.4 389.4L1386.4 400.1L1354.4 389.4L1337.3 378.8Z" fill-opacity="0.31"/><path d="M1471.8 357.4L1514.5 346.8L1567.8 346.8L1589.1 368.1L1589.1 400.1L1546.5 410.8L1503.8 400.1L1471.8 389.4Z" fill-opacity="0.26"/><path d="M1461.1 415L1503.8 410.8L1537.9 432.1L1503.8 449.2L1471.8 436.4Z" fill-opacity="0.26"/><path d="M1533.7 427.9L1555 419.3L1572.1 432.1L1563.5 444.9L1542.2 444.9Z" fill-opacity="0.60"/><path d="M1354.4 419.3L1375.7 423.6L1380 444.9L1362.9 440.7Z" fill-opacity="0.31"/><path d="M1388.5 400.1L1418.4 410.8L1407.7 453.5L1386.4 442.8Z" fill-opacity="0.17"/><path d="M1659.6 124.8L1698 124.8L1710.9 144L1689.5 159L1666 150.4Z" fill-opacity="0.26"/><path d="M1740.7 124.8L1804.8 124.8L1868.8 133.3L1952 133.3L1952 208L1911.5 201.6L1868.8 193.1L1836.8 208L1783.4 214.4L1751.4 229.4L1732.2 214.4L1740.7 186.7L1762.1 165.4L1751.4 144Z" fill-opacity="0.31"/><path d="M1847.4 218.7L1890.1 208L1952 214.4L1952 261.4L1911.5 265.7L1868.8 257.1L1847.4 240Z" fill-opacity="0.26"/><path d="M1655.4 274.2L1681 261.4L1710.9 261.4L1732.2 274.2L1719.4 293.4L1689.5 299.8L1663.9 293.4Z" fill-opacity="0.41"/><path d="M1762.1 282.7L1794.1 272.1L1836.8 261.4L1890.1 265.7L1952 274.2L1952 336.1L1911.5 342.5L1868.8 334L1836.8 325.4L1804.8 329.7L1772.7 336.1L1762.1 314.7Z" fill-opacity="0.36"/><path d="M1847.4 346.8L1890.1 346.8L1952 357.4L1952 410.8L1911.5 400.1L1879.5 378.8L1851.7 368.1Z" fill-opacity="0.26"/><path d="M1681 395.8L1706.6 389.4L1719.4 410.8L1706.6 427.9L1685.2 421.5Z" fill-opacity="0.26"/><path d="M1570 357.4L1591.3 368.1L1612.7 400.1L1644.7 421.5L1666 442.8L1644.7 464.1L1612.7 474.8L1587.1 464.1L1570 453.5Z" fill-opacity="0.31"/><path d="M1621.2 293.4L1655.4 289.1L1666 314.7L1644.7 325.4L1623.4 314.7Z" fill-opacity="0.22"/><path d="M1213.5 448.5L1279.7 444.3L1290.4 457.1L1247.7 461.3L1213.5 461.3Z" fill-opacity="0.26"/><path d="M1213.5 597.9L1269 597.9L1311.7 610.7L1316 642.7L1301 674.8L1311.7 706.8L1290.4 717.4L1247.7 717.4L1213.5 717.4Z" fill-opacity="0.36"/><path d="M1213.5 717.4L1290.4 717.4L1333 738.8L1343.7 781.5L1354.4 813.5L1311.7 824.1L1258.4 824.1L1213.5 824.1Z" fill-opacity="0.26"/><path d="M1343.7 792.1L1397.1 802.8L1418.4 819.9L1397.1 828.4L1354.4 824.1Z" fill-opacity="0.22"/><path d="M1533.7 760.1L1555 749.5L1580.6 749.5L1604.9 753.7L1604.9 813.5L1584.9 824.1L1567.8 802.8L1546.5 792.1Z" fill-opacity="0.45"/><path d="M1514.5 824.1L1546.5 813.5L1567.8 824.1L1604.9 834.8L1604.9 845.5L1514.5 845.5Z" fill-opacity="0.26"/><path d="M1796.2 772.9L1826.1 766.5L1858.1 768.7L1890.1 764.4L1922.1 760.1L1952 768.7L1952 798.5L1932.8 790L1911.5 790L1890.1 798.5L1868.8 807.1L1851.7 819.9L1826.1 815.6L1804.8 807.1L1792 802.8L1798.4 790Z" fill-opacity="0.83"/><path d="M1570 749.5L1602 747.3L1623.4 770.8L1644.7 798.5L1676.7 813.5L1698 824.1L1719.4 845.5L1655.4 845.5L1623.4 824.1L1591.3 802.8L1570 792.1Z" fill-opacity="0.55"/><path d="M1570 792.1L1591.3 802.8L1623.4 824.1L1655.4 845.5L1570 845.5Z" fill-opacity="0.36"/><path d="M1698 824.1L1732.2 819.9L1762.1 824.1L1783.4 815.6L1826.1 819.9L1851.7 824.1L1851.7 845.5L1698 845.5Z" fill-opacity="0.64"/><path d="M1851.7 819.9L1890.1 802.8L1932.8 794.3L1952 802.8L1952 845.5L1851.7 845.5Z" fill-opacity="0.45"/><path d="M1597.7 444.3L1634 444.3L1634 465.6L1612.7 467.7Z" fill-opacity="0.26"/><path d="M1719.4 728.1L1762.1 728.1L1762.1 749.5L1719.4 749.5Z" fill-opacity="0.17"/></g><g filter="url(#spk2_1)" fill="#0a18f0"><path d="M1213.5 180.3L1230.6 180.3L1239.1 186.7L1226.3 197.4L1213.5 197.4Z" fill-opacity="0.90"/><path d="M1550.7 287L1572.1 282.7L1589.1 293.4L1604.9 304.1L1604.9 346.8L1584.9 342.5L1567.8 325.4L1555 308.3Z" fill-opacity="0.45"/><path d="M1491 321.1L1508 321.1L1512.3 338.2L1495.2 336.1Z" fill-opacity="0.30"/><path d="M1431.2 372.4L1444 368.1L1448.3 385.2L1435.5 387.3Z" fill-opacity="0.40"/><path d="M1281.8 427.9L1303.2 432.1L1324.5 453.5L1341.6 474.8L1354.4 496.1L1367.2 520L1354.4 520L1333 491.9L1307.4 464.1L1286.1 444.9Z" fill-opacity="0.50"/><path d="M1341.6 415L1354.4 419.3L1362.9 440.7L1380 453.5L1380 474.8L1362.9 462L1350.1 444.9Z" fill-opacity="0.45"/><path d="M1418.4 453.5L1435.5 451.3L1439.8 470.5L1422.7 472.7Z" fill-opacity="0.40"/><path d="M1465.4 487.6L1493.1 479.1L1525.1 487.6L1537.9 506.8L1514.5 520L1471.8 520Z" fill-opacity="0.55"/><path d="M1537.9 506.8L1567.8 496.1L1589.1 506.8L1578.5 520L1546.5 520Z" fill-opacity="0.30"/><path d="M1482.4 444.9L1503.8 440.7L1508 457.7L1491 462Z" fill-opacity="0.30"/><path d="M1324.5 293.4L1333 287L1337.3 325.4L1328.8 346.8L1320.2 325.4Z" fill-opacity="0.25"/><path d="M1397.1 312.6L1407.7 308.3L1409.9 325.4L1399.2 327.5Z" fill-opacity="0.40"/><path d="M1570 282.7L1587.1 293.4L1595.6 314.7L1612.7 336.1L1608.4 357.4L1587.1 353.2L1570 346.8Z" fill-opacity="0.50"/><path d="M1655.4 304.1L1698 304.1L1708.7 325.4L1676.7 329.7L1655.4 321.1Z" fill-opacity="0.30"/><path d="M1719.4 299.8L1751.4 295.5L1762.1 316.9L1740.7 325.4L1723.7 316.9Z" fill-opacity="0.35"/><path d="M1851.7 389.4L1873 389.4L1890.1 410.8L1911.5 432.1L1932.8 421.5L1952 415L1952 453.5L1932.8 444.9L1902.9 453.5L1868.8 432.1L1853.8 410.8Z" fill-opacity="0.45"/><path d="M1902.9 462L1932.8 453.5L1952 449.2L1952 506.8L1932.8 502.5L1911.5 485.5Z" fill-opacity="0.60"/><path d="M1834.6 357.4L1847.4 355.3L1849.6 374.5L1836.8 376.6Z" fill-opacity="0.30"/><path d="M1642.6 474.8L1659.6 479.1L1655.4 496.1L1642.6 491.9Z" fill-opacity="0.30"/><path d="M1290.4 444.3L1324.5 444.3L1341.6 472L1367.2 514.7L1392.8 546.7L1388.5 559.5L1362.9 536L1337.3 499.8L1316 472Z" fill-opacity="0.40"/><path d="M1341.6 444.3L1375.7 444.3L1388.5 472L1375.7 474.1L1354.4 461.3Z" fill-opacity="0.30"/><path d="M1418.4 452.8L1435.5 450.7L1437.6 467.7L1420.5 467.7Z" fill-opacity="0.30"/><path d="M1465.4 493.4L1493.1 491.2L1525.1 499.8L1537.9 512.6L1525.1 529.6L1493.1 531.8L1471.8 521.1Z" fill-opacity="0.55"/><path d="M1537.9 508.3L1567.8 512.6L1572.1 542.4L1555 538.2Z" fill-opacity="0.30"/><path d="M1576.3 521.1L1604.9 521.1L1604.9 546.7L1580.6 542.4Z" fill-opacity="0.30"/><path d="M1298.9 576.6L1324.5 570.2L1333 585.1L1311.7 589.4Z" fill-opacity="0.50"/><path d="M1320.2 602.2L1354.4 597.9L1375.7 604.3L1367.2 627.8L1354.4 644.9L1354.4 662L1345.9 674.8L1341.6 696.1L1328.8 696.1L1324.5 674.8L1307.4 664.1L1316 644.9L1324.5 623.5Z" fill-opacity="0.60"/><path d="M1375.7 696.1L1397.1 681.2L1418.4 696.1L1435.5 691.8L1439.8 708.9L1427 726L1409.9 738.8L1392.8 726L1380 713.2Z" fill-opacity="0.50"/><path d="M1362.9 747.3L1380 751.6L1397.1 764.4L1401.3 781.5L1388.5 777.2L1371.5 764.4Z" fill-opacity="0.70"/><path d="M1397.1 738.8L1418.4 743L1439.8 755.9L1461.1 760.1L1461.1 790L1439.8 781.5L1418.4 772.9L1401.3 760.1Z" fill-opacity="0.50"/><path d="M1512.3 721.7L1529.4 717.4L1537.9 738.8L1529.4 751.6L1512.3 764.4L1508 781.5L1503.8 802.8L1499.5 819.9L1491 815.6L1493.1 792.1L1497.4 768.7L1508 747.3Z" fill-opacity="0.80"/><path d="M1461.1 790L1491 781.5L1491 815.6L1503.8 834.8L1482.4 841.2L1461.1 824.1Z" fill-opacity="0.40"/><path d="M1537.9 706.8L1567.8 696.1L1584.9 713.2L1567.8 738.8L1542.2 738.8Z" fill-opacity="0.35"/><path d="M1439.8 685.4L1503.8 681.2L1514.5 706.8L1482.4 717.4L1450.4 708.9Z" fill-opacity="0.25"/><path d="M1397.1 790L1418.4 794.3L1414.1 807.1L1397.1 802.8Z" fill-opacity="0.30"/><path d="M1885.9 444.3L1952 444.3L1952 493.4L1922.1 491.2L1900.8 472Z" fill-opacity="0.60"/><path d="M1868.8 493.4L1902.9 491.2L1952 504L1952 525.4L1890.1 514.7Z" fill-opacity="0.30"/><path d="M1574.3 521.1L1595.6 516.8L1619.1 546.7L1608.4 555.2L1582.8 542.4Z" fill-opacity="0.30"/><path d="M1759.9 529.6L1772.7 527.5L1774.9 540.3L1762.1 542.4Z" fill-opacity="0.60"/><path d="M1689.5 529.6L1719.4 529.6L1732.2 551L1762.1 572.3L1783.4 589.4L1774.9 595.8L1745 576.6L1715.1 555.2L1693.8 542.4Z" fill-opacity="0.30"/><path d="M1676.7 597.9L1693.8 597.9L1710.9 623.5L1706.6 640.6L1689.5 627.8Z" fill-opacity="0.30"/><path d="M1745 602.2L1762.1 604.3L1770.6 621.4L1753.5 621.4Z" fill-opacity="0.30"/><path d="M1843.2 536L1868.8 536L1868.8 602.2L1843.2 602.2Z" fill-opacity="0.20"/><path d="M1909.3 672.6L1928.5 670.5L1932.8 696.1L1920 708.9L1909.3 696.1Z" fill-opacity="0.50"/><path d="M1937.1 696.1L1952 691.8L1952 713.2L1939.2 713.2Z" fill-opacity="0.40"/><path d="M1597.7 734.5L1617 732.4L1619.1 751.6L1602 753.7Z" fill-opacity="0.40"/><path d="M1570 702.5L1578.5 704.6L1578.5 734.5L1570 734.5Z" fill-opacity="0.50"/><path d="M1676.7 721.7L1815.4 717.4L1826.1 760.1L1783.4 770.8L1719.4 802.8L1676.7 781.5Z" fill-opacity="0.20"/></g></g>
<g clip-path="url(#clip2)" fill="none" stroke-linejoin="round" stroke-linecap="round"><path d="M1213.3 139L1232.9 144.2L1238.9 157L1213.3 157.4M1234.1 145.4L1243.7 144.6L1252.1 134.6L1269.7 126.2L1279.3 130.2L1288.1 124.6L1292.1 127L1290.1 130.6L1294.5 131.8L1291.3 137L1303.3 140.6L1307.3 136.2L1312.1 138.6L1316.9 147.8L1321.7 148.2L1322.9 158.2L1322.1 169.4L1308.9 179L1306.5 193.4L1323.3 191L1324.9 202.2L1332.1 206.2L1327.7 215.8L1336.9 218.2L1340.1 225.4L1348.1 222.6L1352.9 225.4M1303.3 140.6L1298.1 147.8L1302.1 154.2L1290.1 151.8L1277.3 159.8L1272.1 176.6L1263.7 195.4L1254.5 192.2L1252.1 215L1244.1 218.2L1245.7 227L1240.5 225.4M1213.3 177L1243.7 181.4L1226.1 196.6L1231.7 206.6L1237.3 195.8L1240.9 197.4L1244.1 217.4M1352.9 225.4L1339.3 239.8L1331.3 238.6L1323.3 246.7L1313.7 246.3L1308.9 261.5L1304.1 262.3L1308.9 270.6M1339.3 239.8L1344.1 241.4L1344.9 248.7L1352.9 249.5L1350.5 270.6M1354.2 228.6L1359 228.6L1359 213.4L1364.6 213.4L1368.6 208.6L1375.8 212.6L1379.8 208.6L1387 212.6L1404.2 201L1411.8 207L1423 208.2L1422.2 219L1435 223M1364.6 213.4L1367 218.2L1370.2 222.2L1374.2 222.2L1373.4 227.8L1376.6 232.6L1383 235.8L1388.6 231.4L1395 234.2L1393.4 238.6L1399.8 243L1396.6 248.7L1387 249.5L1386.2 252.7L1399 258.3L1408.6 270.6M1334.6 345.7L1320.2 365.7L1311.4 374.6M1330.6 238.5L1325 246.5L1313 246.5L1309.8 261.7L1304.2 262.1L1323.4 289.7L1325 288.9L1314.6 304.9L1327.4 320.9L1330.6 334.5L1333.8 345.7M1372.2 342.5L1366.6 324.9L1377.8 314.5L1395.4 314.1M1399.8 243.3L1395.8 248.1L1387 248.9L1386.2 252.9L1400.6 260.1L1412.6 273.7L1420.6 286.5L1431 292.9L1427.8 296.1L1434.2 303.3L1431.8 310.5L1425.4 315.3L1414.2 313.7L1409.4 314.5M1431.8 310.5L1431 322.5L1432.6 338.5L1425.4 342.5L1416.6 345.7L1410.2 349.7L1412.6 352.9L1414.2 359.3L1406.2 357.7M1395 314.1L1403 314.1L1404.6 307.3L1403 302.5L1406.2 300.1L1409.4 302.5M1403.8 358.5L1395 364.1M1331.3 414L1337.6 414M1341.2 410.8L1347.6 412.7L1352.1 423.5L1360.3 422.6L1363.9 417.2M1460.5 474.3L1470.5 484.3L1485 482.5L1495 474.3L1509.5 478.9L1522.2 475.2L1536.7 439.9L1571.2 440.8M1515.9 438L1521.3 444.4L1524.9 436.2M1528.6 435.3L1530.4 440.8M1852.5 528.7L1852.5 607.4M1702 686.8L1702 738.9M1702.6 721.1L1702.6 845.6M1702.6 821.3L1724.5 821.3M1815.1 702.7L1815.1 820.6M1714.5 821.3L1853.2 821.3L1853.2 845.6" stroke="#f5c400" stroke-width="1.3"/><path d="M1213.3 221.4L1216.1 215.8L1218.9 210.6L1221.3 208.6L1228.1 208.6L1231.3 212.2L1234.5 217.4L1237.7 223L1241.7 230.2L1246.5 240.6L1248.9 239.4L1251.7 235.8L1251.3 240.6L1255.3 242.6L1260.1 245.5L1262.5 249.5L1258.5 249.5L1254.9 251.9L1259.3 257.5L1262.5 256.7L1264.1 251.9L1265.7 257.5L1268.1 265.5L1269.3 270.6M1216.1 219.8L1219.3 213.4L1220.1 218.2L1222.1 213.4L1222.9 216.6M1213.3 169.8L1220.1 165M1418.2 270.6L1409.4 257.5L1408.6 254.3L1411.8 244.7L1419 240.6L1420.6 235L1423.8 235.8L1421.4 232.6L1431 230.6L1435 224.2L1442.2 223.8L1445.4 220.6L1452.6 226.2L1458.2 221.8L1462.6 225.4L1460.6 228.6L1459 232.6L1462.2 241.4L1467 241.4L1468.2 228.6L1467 226.2L1469.4 228.6L1483.8 224.6L1485.4 221.4L1493.4 221.4L1495.1 219L1500.7 219.8L1504.3 217.4M1405.4 226.6L1418.2 239.4M1454.2 244.3L1475 243L1476.6 247.9L1469.4 260.7L1457.4 267.1L1451 263.9L1446.2 253.5L1454.2 244.3M1464.2 201L1480.6 199.8L1483.8 203.8L1498.3 203.8L1501.5 209.4L1504.3 212.6M1269.3 270.5L1270.5 273.7L1267.7 283.3L1265.7 293.7L1268.9 294.5L1268.1 290.5L1272.9 295.3L1276.1 292.9L1280.1 297.7L1282.5 292.1L1290.5 288.1L1288.1 284.1L1292.1 285.7L1298.6 283.3L1298.6 275.3L1302.6 282.5L1305.8 286.5L1309.8 287.3L1311.4 302.5L1313 312.1L1314.6 322.5L1317 320.9L1317 325.7L1321.8 333.7L1320.2 342.5L1323.4 347.3L1320.2 356.1L1318.6 363.3L1320.2 369.8L1317 381.8L1317 390.6L1320.2 392.2L1325 395.7M1341 395.7L1337.8 386.6L1335.4 379.4L1329 376.2L1327.4 369.8L1328.2 363.3L1334.6 348.9L1337.4 342.5L1336.6 326.5L1350.6 324.9L1350.6 334.5L1360.2 335.3L1372.2 342.5L1374.6 350.5L1377.8 358.5L1381.8 354.5L1383.4 361.7L1390.6 364.9L1401.8 370.6M1344.2 238.5L1345 248.9L1353.8 249.7L1349 273.7L1352.2 274.5L1363.4 266.1L1370.6 271.3L1376.2 265.3L1380.2 262.5L1388.2 264.1L1398.6 276.9L1397.8 286.5L1406.6 294.5M1419 239.3L1411.8 244.9L1408.6 256.9L1419 270.5L1426.2 280.9L1431.8 285.7L1443 291.3L1450.2 302.5L1453.5 318.5L1455.9 334.5L1452.6 336.9L1451 352.1L1428.6 364.1L1423.8 363.3L1423.8 355.3L1421.4 366.5L1419 363.3L1421.4 369.8L1417.4 368.1L1419.8 374.6L1414.2 371.4L1412.6 376.2L1400.6 382.6L1397.4 381.8L1401.4 369.8L1395.8 366.5L1386.2 361.7L1382.2 356.1L1379 358.5L1374.2 350.5M1398.2 286.5L1405.4 293.7L1409.4 302.5L1411.8 313.7L1412.6 326.5L1411.8 338.5L1404.6 343.3L1400.6 348.9L1402.2 356.9L1407.8 362.5L1415.8 366.5M1394.2 336.9L1399.8 350.5M1494.3 203.8L1498.3 204.2L1503.1 213.4L1500.3 213.4L1499.9 219L1495.9 219M1503.1 213.4L1506.3 204.6L1514.3 213.4L1511.9 215L1515.1 215.8L1524.7 207.8L1524.7 211.8L1530.3 207L1533.5 210.2L1543.9 206.2L1547.1 203L1544.7 200.6L1555.1 198.2L1555.1 194.2L1558.3 197.4L1565.5 190.2L1561.5 187L1571.1 187L1569.5 182.2L1575.9 183L1573.5 178.2L1580.7 179L1579.1 173.4L1584.7 176.6L1583.1 169.4L1587.1 164.6L1583.1 158.2L1589.5 160.6L1599.2 144.6L1596.8 141.8L1609.6 139.8L1606.4 135L1612 131.8L1606.4 129.4L1613.6 127L1607.2 124.6L1614.4 122.2L1616 119.4M1535.9 119.4L1542.3 120.6L1539.1 122.2L1537.9 127.8L1544.7 133.8L1547.9 129L1541.9 127M1608.8 176.6L1614.4 180.6L1600.8 217.4L1598.4 216.6L1589.5 204.6L1590.4 197.4L1608.8 176.6M1596.5 261.3L1618.7 263.5L1615.3 271.6L1620.4 282.7L1605.9 302.3L1609.3 312.6L1617 318.6L1615.3 316L1623 314.3L1626.4 319.4L1629.8 322.9L1633.2 318.6L1638.3 322L1632.4 324.6L1634.1 329.7L1640.9 330.5L1642.6 334L1645.2 337.4L1653.7 336.5L1658.8 341.6L1661.4 356.2L1652.9 352.8L1652 345.9L1645.2 339.1L1639.2 335.7L1637.5 331.4L1630.7 331.4L1623.8 322.9L1619.5 319.4L1622.1 329.7L1611 319.4L1604.2 324.6L1597.3 321.1L1599.9 310L1595.6 309.2L1594.8 313.5L1588.8 308.3L1589.6 304.1L1587.1 299.8L1585.4 293.8L1587.1 288.7L1589.6 291.2L1595.6 291.2L1596.5 261.3M1612.7 345.1L1625.5 351L1628.9 348.5L1628.1 355.3L1614.4 363.9L1612.7 345.1M1628.9 356.2L1633.2 359.6L1630.7 378.4L1626.4 381.8L1618.7 371.5L1625.5 366.4L1628.9 356.2M1665.7 416.3L1672.5 401.5L1670 388.6L1665.7 385.2L1667.4 376.7L1657.1 371.5L1658 381.8L1648.6 381.8L1649.4 386.9L1643.5 386.9L1634.9 393.8L1638.3 389.5L1630.7 384.8L1615.3 394.6L1618.7 398.9L1612.7 410L1616.1 413.4L1622.1 400.6L1630.7 404.9L1634.9 398L1642.6 403.2L1640.9 416.3M1658 416.3L1656.3 408.3L1660.6 403.2L1664 410.8L1665.7 416.3M1552.1 392.9L1561.5 385.2L1573.4 370.7L1578.5 364.7L1579.4 357.9L1582 351L1585.4 363L1581.1 364.7L1569.1 378.4L1553.8 393.8L1552.1 392.9M1318.6 383.6L1315.8 390.9L1320.4 389.1L1327.6 399L1337.6 409.9L1341.2 410.8L1342.1 421.7L1344.9 439.9L1353 458L1371.2 470.7L1382 478.4L1391.1 477.5L1384.8 465.3L1381.1 458L1381.6 438L1376.6 428.1L1365.7 417.2L1357.6 409L1343 405.4L1339.4 392.7L1338.5 383.6M1383.9 477L1387.5 473.4L1391.1 477.5M1277.3 424.4L1305 428.1L1315.8 438L1314 442.6L1337.6 457.1L1348.5 471.6L1351.2 465.3L1353 470.7L1366.6 482.5L1373 485.2L1376.6 488.8L1371.2 492.5L1376.6 488.8L1381.1 487.9L1384.8 491.6L1379.3 503.3L1392.9 507.9L1394.7 519.7L1399.3 522.4L1396.5 528.7L1399.3 524.2L1409.2 525.1L1414.7 537.8L1412.9 546.9L1410.2 561.7M1277.3 424.4L1281.4 435.3L1297.7 448L1309.5 465.3L1322.2 471.6L1326.7 490.6L1341.2 504.3L1358.5 534.2L1389.3 561.7M1402.9 521.5L1404.7 515.1L1413.8 514.2L1418.3 526.9L1423.8 527.8L1421.9 533.3L1412.9 530.6L1409.2 522.4L1402.9 521.5M1458.7 468L1451.5 476.1L1448.8 481.6L1450.1 491.6L1454.2 494.3L1451.5 500.6L1457.8 503.3L1458.7 507.9L1455.1 510.6L1463.3 509.7L1466 530.6L1484.1 529.6L1487.8 539.6L1501.4 531.5L1508.6 534.2L1508.6 537.8L1520.4 537.8L1521.3 546.9L1540.4 535.1L1539.4 530.6L1542.2 533.3L1546.7 522.4L1541.3 516.9L1546.7 509.7L1549.4 510.6L1559.4 504.3L1558.5 494.3L1564.8 483.4L1562.1 480.7L1569.4 483.4L1576.6 482L1560.3 470.7L1564.8 465.3L1551.2 449.8L1561.2 448L1555.8 442.6L1571.2 439.9L1565.7 432.6L1579.3 427.2L1567.6 420.8L1563 423.5L1564.8 419L1558.5 419.9L1560.3 413.6L1553 406.3L1549.4 411.7L1547.6 406.3L1536.7 424.4L1530.4 426.3L1534 429L1531.3 432.6L1513.1 436.2L1501.4 454.4L1482.3 459.8L1478.7 477L1463.3 473.4L1458.7 468M1648.8 383.6L1647.8 387.3L1642.4 388.2L1637 392.7L1633.3 389.1L1630.6 385.4L1617 394.5L1612.5 405.4L1616.1 408.1L1621.5 397.2L1632.4 401.8L1637 397.2L1642.4 401.8L1639.7 412.7L1651.5 420.8L1655.1 418.1L1656.9 424.4L1660.5 419.9L1656.9 410.8L1660.5 402.7L1666.9 415.4L1666 408.1L1671.4 401.8L1669.6 388.2L1665.1 385.4L1666 383.6M1574.4 528.7L1579.8 518.8L1580.7 510.6L1587.1 504.3L1584.4 496.1L1588.9 489.7L1591.6 482.5L1595.2 484.3L1600.7 477L1638.8 484.3L1654.2 473L1644.2 488.8L1592.5 489.3L1589.8 501.5L1597.1 510.6L1602.5 512.4L1608.9 504.3L1632.4 504.3L1605.2 518.8L1620.6 534.2L1615.2 540.5L1625.2 549.6L1613.4 551.4L1610.7 555.9L1607.9 546L1598.9 537.8L1601.6 526.9L1597.1 527.8L1590.7 532.4L1594.3 561.7M1574.4 537.8L1582.6 538.7L1582.6 561.7M1688.7 466.2L1688.7 474.3L1682.3 481.6L1685.9 497L1695 506.1L1689.6 497L1688.7 488.8L1701.4 491.6L1693.2 483.4L1698.6 479.8L1698.6 474.3L1690.5 478.9L1688.7 474.3M1687.8 539.6L1690.5 533.3L1702.3 529.6L1719.5 532.4L1725.8 543.2L1713.1 536L1695 537.8L1692.3 534.2L1687.8 539.6M1574.4 425.3L1579.8 427.6L1574.4 430.8M1725.8 511.4L1731.2 504L1745.2 498.7L1765.2 503.4L1767.2 526L1771.2 531.4L1772.5 526L1779.2 537.4L1787.2 534.7L1795.2 522L1804.5 520L1804.5 516.7L1813.9 512.7L1840.5 522.7L1897.9 542.1L1912.6 555.4L1912.6 563.4L1937.9 572.1L1939.2 578.1L1928.6 579.4L1931.2 587.4L1941.9 594.1L1949.9 608.7L1956.6 608.1L1957.9 613.4L1961.9 613.4L1963.2 619.4L1965.9 619.4M1725.8 511.4L1739.2 512.7L1743.2 523.4L1763.2 521.4L1760.5 527.4L1755.2 524.7L1748.5 530.7L1739.2 530L1749.8 534.1L1751.2 546.1L1759.2 542.1L1761.9 531.4L1760.5 540.7L1775.2 544.7L1772.5 547.4L1780.5 550.1L1816.5 562.1L1816.5 567.4L1820.5 566.7L1823.2 578.1L1827.2 580.1L1821.9 582.1L1830.5 584.1L1825.9 586.1L1827.9 595.4L1839.2 595.4L1841.2 595.4L1854.5 610.7L1867.9 608.7L1873.2 612.1L1882.5 604.7L1868.5 597.4L1886.6 597.4L1889.9 593.4L1886.6 588.1L1893.9 592.1L1897.9 587.4L1901.9 592.7L1916.6 596.1L1936.6 620.7L1965.9 626.7M1827.9 590.1L1816.5 589.4L1809.9 600.1L1827.9 595.4M1965.9 562.1L1944.6 564.1L1960.6 574.1L1965.9 572.1M1724.5 652.7L1728.5 646.7L1732.5 649.4L1748.5 646.1L1749.2 640.7L1739.8 634.1L1735.8 636.1M1749.2 640.7L1757.9 643.4L1763.2 642.1L1767.2 648.1L1772.5 644.7L1780.5 649.4L1788.5 645.4L1791.2 651.4L1797.2 643.4L1801.9 649.4L1796.5 652.7L1795.2 660.8L1788.5 661.4L1789.9 667.4L1782.5 682.1L1799.2 693.4L1827.2 704.8L1836.5 714.8L1847.2 715.4L1855.2 696.8L1860.5 683.4L1857.9 670.1L1864.5 654.1L1859.9 652.1L1865.2 646.1L1867.9 631.4L1871.2 628.7L1875.2 635.4L1883.9 654.1L1887.9 676.1L1896.6 672.8L1908.6 683.4L1909.9 702.1L1915.9 707.4L1920.6 730.9M1404.3 520.9L1410.7 523L1416 523L1417.1 526.7L1423.5 527.8L1421.9 532.1L1414.4 531L1413.3 550.8L1410.7 560.4L1408.5 567.9L1404.3 565.7M1404.3 580.7L1410.7 576.4L1414.4 568.4L1440.6 571.6L1449.1 580.7L1468.3 581.7L1475.8 574.8L1495 580.1L1503.6 592.4L1519.6 593L1519.1 596.7L1520.7 604.2L1506.8 601.5L1464.1 595.1L1447 589.8L1437.4 591.4L1419.2 586.6L1419.2 581.7L1410.7 580.1L1404.3 580.7M1580.5 518.7L1573 530L1576.2 538.5L1582.6 539L1582.6 564.7L1595.4 564.7L1593.3 532.6L1594.3 529.4L1599.7 528.4L1601.8 539L1604.4 542.2M1548.4 603.6L1552.7 599.9L1561.2 601L1560.2 597.2L1567.6 598.8L1579.4 602.6L1565.5 605.8L1552.7 608.4L1548.4 603.6M1602.2 528.7L1600 535.2L1606.4 541.6L1609.6 554.4L1613.9 556L1615 550.1L1625.6 549L1618.2 540.5L1620.3 534.1L1615 528.7M1586.1 604L1593.6 598.2L1606.4 602.4L1621.4 599.8L1626.7 598.2L1624.6 596.6L1621.4 601.4L1609.6 606.7L1595.7 605.1L1586.1 604M1575.5 614.2L1587.2 611L1599 620.6L1594.7 624.9L1589.3 621.1L1575.5 614.2M1632.1 624.9L1635.3 615.2L1653.4 602.4L1681.2 599.2L1665.2 609.9L1641.7 624.9L1632.1 624.9M1619.2 721L1616 710.3L1625.6 700.7L1629.9 710.3L1634.2 716.7L1632.6 710.3L1638.5 712.4L1637.4 706L1632.1 705L1634.2 698.5L1651.3 699.6L1643.8 695.3L1648.1 693.2L1642.7 691.1L1647 685.7L1654.5 690L1657.7 684.7L1653.4 680.4L1659.8 672.9L1663 679.3L1665.2 669.7L1668.4 674L1670.5 669.7L1672.6 674L1675.8 667.6L1683.3 670.8L1691.9 680.4L1689.7 688.9L1691.9 685.7L1694 688.9L1695.1 680.4L1701.5 678.3L1703.6 686.8L1706.8 680.4L1710 685.7L1714.3 679.3L1706.8 675.1L1713.2 663.3L1718.6 662.2L1719.6 652.6L1722.8 653.7L1721.8 649.4L1726 653.7L1725 649.4L1731.4 646.2L1733.5 648.4L1747.4 647.3L1749.5 640.9L1736.7 636.6L1738.8 633.9L1749.5 637.7L1760.2 641.9L1763.4 640.9L1767.7 647.3L1774.5 645.2M1516.3 845.6L1509.4 829.7L1502.4 822.7L1512.2 827.6L1512.2 815.1L1516.3 824.8L1511.5 813.7L1505.9 801.2L1512.8 769.3L1517.7 777.6L1520.5 769.3L1548.2 752L1555.8 756.1L1578 745.1L1603 739.5L1619.2 721.1M1907.3 688.9L1908 700L1914.9 706.9L1918.4 730.5L1950.3 748.5L1961.4 777.6L1965.6 776.3M1389.3 561.8L1397.2 564.3L1404.3 565.8L1408.6 567.9" stroke="#ffd500" stroke-width="2.7"/></g>
<path d="M1337.5 119V845.3M1463.1 119V845.3M1588.7 119V845.3M1714.3 119V845.3M1839.9 119V845.3M1212.4 219.3H1952.5M1212.4 344.4H1952.5M1212.4 469.5H1952.5M1212.4 594.6H1952.5M1212.4 719.7H1952.5" fill="none" stroke="#000" stroke-width="1.9" stroke-dasharray="1.9 1.8"/>
<rect x="1212.4" y="119" width="740.1" height="726.3" fill="none" stroke="#000" stroke-width="1.6"/>
<g font-family="'DejaVu Sans', 'Liberation Sans', sans-serif" font-size="21" fill="#111"><text x="1203.9" y="225.6" text-anchor="end">22°N</text><text x="1203.9" y="350.7" text-anchor="end">12°N</text><text x="1203.9" y="475.8" text-anchor="end">2°N</text><text x="1203.9" y="600.9" text-anchor="end">8°S</text><text x="1203.9" y="726" text-anchor="end">18°S</text><text x="1203.9" y="851.1" text-anchor="end">28°S</text><text x="1212.4" y="870.5" text-anchor="middle">90°E</text><text x="1338" y="870.5" text-anchor="middle">100°E</text><text x="1463.6" y="870.5" text-anchor="middle">110°E</text><text x="1589.2" y="870.5" text-anchor="middle">120°E</text><text x="1714.8" y="870.5" text-anchor="middle">130°E</text><text x="1840.4" y="870.5" text-anchor="middle">140°E</text></g>
</g>
<g id="panel3">
<g clip-path="url(#clip3)"><rect x="126.2" y="1104" width="772.8" height="759.4" fill="#f5f5f5"/><g filter="url(#spk3_2)" fill="#d4d4d4"><path d="M290.7 1705.4L333.4 1716.1L376.1 1748.1L418.8 1758.8L440.1 1737.4L461.5 1737.4L440.1 1780.1L429.5 1812.1L397.4 1822.8L354.8 1801.5L312.1 1769.5L290.7 1737.4Z" fill-opacity="0.52"/><path d="M841.5 1758.8L873.5 1758.8L899.1 1754.5L899.1 1771.6L852.1 1775.9Z" fill-opacity="0.52"/></g><g filter="url(#spk3_0)" fill="#2363e3"><path d="M303.5 1279.4L312.1 1268.7L322.7 1275.1L329.1 1290.1L324.9 1302.9L312.1 1300.7L305.7 1294.3Z" fill-opacity="0.60"/><path d="M487.1 1290.1L504.1 1281.5L519.9 1285.8L519.9 1311.4L504.1 1313.5L491.3 1305Z" fill-opacity="0.55"/><path d="M126.4 1311.4L173.4 1296.5L211.8 1290.1L235.2 1294.3L239.5 1311.4L235.2 1332.8L239.5 1354.1L235.2 1386.1L205.4 1396.8L162.7 1386.1L126.4 1375.4Z" fill-opacity="0.50"/><path d="M126.4 1375.4L235.2 1386.1L226.7 1418.1L239.5 1456.5L205.4 1465.1L162.7 1456.5L126.4 1439.5Z" fill-opacity="0.32"/><path d="M256.6 1341.3L290.7 1339.2L312.1 1354.1L333.4 1343.4L365.4 1349.8L371.8 1375.4L333.4 1396.8L301.4 1401L269.4 1392.5L256.6 1375.4Z" fill-opacity="0.42"/><path d="M258.7 1407.5L290.7 1413.9L303.5 1439.5L299.3 1460.8L269.4 1450.1Z" fill-opacity="0.40"/><path d="M397.4 1364.8L440.1 1343.4L493.5 1339.2L519.9 1343.4L519.9 1386.1L482.8 1392.5L440.1 1386.1L408.1 1379.7Z" fill-opacity="0.45"/><path d="M408.1 1430.9L429.5 1396.8L461.5 1396.8L493.5 1418.1L519.9 1428.8L519.9 1450.1L482.8 1448L450.8 1439.5L418.8 1450.1Z" fill-opacity="0.60"/><path d="M256.6 1106.5L282.2 1106.5L290.7 1130L312.1 1151.4L303.5 1162L269.4 1157.8L256.6 1140.7Z" fill-opacity="0.30"/><path d="M256.6 1226L269.4 1217.5L282.2 1230.3L273.7 1245.3L256.6 1260.2Z" fill-opacity="0.50"/><path d="M585.4 1264.5L606.7 1253.8L628 1251.7L657.9 1260.2L657.9 1277.3L636.6 1290.1L611 1290.1L589.6 1281.5Z" fill-opacity="0.45"/><path d="M670.7 1172.7L702.7 1151.4L734.8 1130L777.4 1130L781.7 1172.7L756.1 1187.6L713.4 1194L681.4 1204.7L666.5 1194Z" fill-opacity="0.40"/><path d="M591.8 1106.5L615.2 1106.5L615.2 1130L602.4 1142.8L593.9 1130Z" fill-opacity="0.30"/><path d="M681.4 1279.4L713.4 1268.7L756.1 1264.5L798.8 1264.5L841.5 1268.7L873.5 1279.4L862.8 1300.7L820.1 1311.4L777.4 1322.1L734.8 1328.5L702.7 1332.8L687.8 1311.4Z" fill-opacity="0.35"/><path d="M756.1 1247.4L798.8 1226L830.8 1204.7L862.8 1209L899.9 1209L899.9 1236.7L862.8 1247.4L820.1 1264.5L777.4 1268.7Z" fill-opacity="0.40"/><path d="M777.4 1115.1L820.1 1110.8L899.9 1110.8L899.9 1132.1L841.5 1136.4L798.8 1140.7Z" fill-opacity="0.30"/><path d="M862.8 1162L899.9 1162L899.9 1200.4L873.5 1196.2Z" fill-opacity="0.30"/><path d="M824.4 1315.7L852.1 1300.7L884.1 1311.4L879.9 1332.8L852.1 1337L830.8 1332.8Z" fill-opacity="0.40"/><path d="M794.5 1343.4L820.1 1339.2L841.5 1364.8L862.8 1375.4L899.9 1386.1L899.9 1418.1L873.5 1450.1L841.5 1450.1L809.5 1418.1L794.5 1386.1Z" fill-opacity="0.30"/><path d="M615.2 1401L632.3 1392.5L653.7 1392.5L653.7 1413.9L632.3 1422.4L619.5 1416Z" fill-opacity="0.30"/><path d="M500 1379.7L521.3 1396.8L553.4 1418.1L585.4 1428.8L598.2 1443.7L574.7 1450.1L564 1469.3L532 1460.8L500 1439.5Z" fill-opacity="0.50"/><path d="M500 1300.7L521.3 1311.4L542.7 1294.3L572.6 1290.1L572.6 1311.4L542.7 1322.1L538.4 1354.1L532 1375.4L500 1364.8Z" fill-opacity="0.40"/><path d="M128.5 1652.1L162.7 1652.1L184 1635L226.7 1630.7L248 1652.1L243.8 1684.1L222.4 1694.8L209.6 1716.1L184 1726.8L128.5 1726.8Z" fill-opacity="0.50"/><path d="M128.5 1579.5L162.7 1588L205.4 1588L239.5 1583.8L243.8 1596.6L205.4 1609.4L128.5 1605.1Z" fill-opacity="0.30"/><path d="M128.5 1726.8L184 1726.8L216 1748.1L248 1758.8L248 1775.9L205.4 1780.1L162.7 1769.5L128.5 1780.1Z" fill-opacity="0.35"/><path d="M128.5 1801.5L162.7 1801.5L205.4 1810L248 1805.7L290.7 1801.5L301.4 1818.5L333.4 1822.8L333.4 1839.9L290.7 1833.5L248 1827.1L205.4 1835.6L162.7 1839.9L128.5 1844.1Z" fill-opacity="0.40"/><path d="M128.5 1810L173.4 1805.7L184 1822.8L216 1827.1L209.6 1835.6L162.7 1839.9L128.5 1844.1Z" fill-opacity="0.40"/><path d="M256.6 1694.8L312.1 1694.8L354.8 1737.4L333.4 1780.1L290.7 1780.1L256.6 1748.1Z" fill-opacity="0.15"/><path d="M478.5 1716.1L495.6 1707.6L499.9 1726.8L482.8 1737.4Z" fill-opacity="0.40"/><path d="M376.1 1812.1L429.5 1812.1L431.6 1863.4L376.1 1863.4Z" fill-opacity="0.20"/><path d="M128.5 1472.8L226.7 1472.8L226.7 1524L128.5 1524Z" fill-opacity="0.12"/><path d="M529.9 1763L553.4 1769.5L574.7 1801.5L606.7 1822.8L628 1827.1L649.4 1844.1L681.4 1852.7L681.4 1863.4L611 1863.4L581.1 1842L547 1801.5Z" fill-opacity="0.50"/><path d="M798.8 1818.5L820.1 1805.7L862.8 1801.5L899.1 1812.1L899.1 1839.9L862.8 1842L820.1 1844.1L798.8 1839.9Z" fill-opacity="0.35"/><path d="M611 1609.4L632.3 1605.1L649.4 1630.7L649.4 1652.1L636.6 1647.8L619.5 1630.7Z" fill-opacity="0.30"/><path d="M675 1605.1L702.7 1609.4L713.4 1626.5L692.1 1628.6L677.1 1617.9Z" fill-opacity="0.30"/><path d="M649.4 1737.4L692.1 1733.2L702.7 1758.8L670.7 1769.5L649.4 1758.8Z" fill-opacity="0.25"/><path d="M852.1 1684.1L873.5 1684.1L877.7 1705.4L858.5 1716.1L850 1701.2Z" fill-opacity="0.30"/><path d="M879.9 1716.1L899.1 1711.8L899.1 1733.2L882 1731Z" fill-opacity="0.30"/><path d="M636.6 1797.2L675 1801.5L675 1814.3L640.9 1812.1Z" fill-opacity="0.20"/></g><g filter="url(#spk3_0)" fill="#00008b"><path d="M126.4 1311.4L173.4 1296.5L211.8 1290.1L235.2 1294.3L239.5 1311.4L235.2 1332.8L239.5 1354.1L235.2 1386.1L205.4 1396.8L162.7 1386.1L126.4 1375.4Z" fill-opacity="0.30"/><path d="M126.4 1375.4L235.2 1386.1L226.7 1418.1L239.5 1456.5L205.4 1465.1L162.7 1456.5L126.4 1439.5Z" fill-opacity="0.12"/><path d="M256.6 1341.3L290.7 1339.2L312.1 1354.1L333.4 1343.4L365.4 1349.8L371.8 1375.4L333.4 1396.8L301.4 1401L269.4 1392.5L256.6 1375.4Z" fill-opacity="0.22"/><path d="M258.7 1407.5L290.7 1413.9L303.5 1439.5L299.3 1460.8L269.4 1450.1Z" fill-opacity="0.20"/><path d="M397.4 1364.8L440.1 1343.4L493.5 1339.2L519.9 1343.4L519.9 1386.1L482.8 1392.5L440.1 1386.1L408.1 1379.7Z" fill-opacity="0.25"/><path d="M408.1 1430.9L429.5 1396.8L461.5 1396.8L493.5 1418.1L519.9 1428.8L519.9 1450.1L482.8 1448L450.8 1439.5L418.8 1450.1Z" fill-opacity="0.40"/><path d="M256.6 1106.5L282.2 1106.5L290.7 1130L312.1 1151.4L303.5 1162L269.4 1157.8L256.6 1140.7Z" fill-opacity="0.10"/><path d="M256.6 1226L269.4 1217.5L282.2 1230.3L273.7 1245.3L256.6 1260.2Z" fill-opacity="0.30"/><path d="M585.4 1264.5L606.7 1253.8L628 1251.7L657.9 1260.2L657.9 1277.3L636.6 1290.1L611 1290.1L589.6 1281.5Z" fill-opacity="0.25"/><path d="M670.7 1172.7L702.7 1151.4L734.8 1130L777.4 1130L781.7 1172.7L756.1 1187.6L713.4 1194L681.4 1204.7L666.5 1194Z" fill-opacity="0.20"/><path d="M591.8 1106.5L615.2 1106.5L615.2 1130L602.4 1142.8L593.9 1130Z" fill-opacity="0.10"/><path d="M681.4 1279.4L713.4 1268.7L756.1 1264.5L798.8 1264.5L841.5 1268.7L873.5 1279.4L862.8 1300.7L820.1 1311.4L777.4 1322.1L734.8 1328.5L702.7 1332.8L687.8 1311.4Z" fill-opacity="0.15"/><path d="M756.1 1247.4L798.8 1226L830.8 1204.7L862.8 1209L899.9 1209L899.9 1236.7L862.8 1247.4L820.1 1264.5L777.4 1268.7Z" fill-opacity="0.20"/><path d="M777.4 1115.1L820.1 1110.8L899.9 1110.8L899.9 1132.1L841.5 1136.4L798.8 1140.7Z" fill-opacity="0.10"/><path d="M862.8 1162L899.9 1162L899.9 1200.4L873.5 1196.2Z" fill-opacity="0.10"/><path d="M824.4 1315.7L852.1 1300.7L884.1 1311.4L879.9 1332.8L852.1 1337L830.8 1332.8Z" fill-opacity="0.20"/><path d="M794.5 1343.4L820.1 1339.2L841.5 1364.8L862.8 1375.4L899.9 1386.1L899.9 1418.1L873.5 1450.1L841.5 1450.1L809.5 1418.1L794.5 1386.1Z" fill-opacity="0.10"/><path d="M615.2 1401L632.3 1392.5L653.7 1392.5L653.7 1413.9L632.3 1422.4L619.5 1416Z" fill-opacity="0.10"/><path d="M500 1379.7L521.3 1396.8L553.4 1418.1L585.4 1428.8L598.2 1443.7L574.7 1450.1L564 1469.3L532 1460.8L500 1439.5Z" fill-opacity="0.30"/><path d="M500 1300.7L521.3 1311.4L542.7 1294.3L572.6 1290.1L572.6 1311.4L542.7 1322.1L538.4 1354.1L532 1375.4L500 1364.8Z" fill-opacity="0.20"/><path d="M128.5 1810L173.4 1805.7L184 1822.8L216 1827.1L209.6 1835.6L162.7 1839.9L128.5 1844.1Z" fill-opacity="0.20"/></g><g filter="url(#rag3)"><path d="M393.2 1488.5L418.8 1482.1L440.1 1488.5L452.9 1503.5L418.8 1506L397.4 1503.5Z" fill="#d4d4d4"/><path d="M500 1279.4L517.1 1283.7L517.1 1300.7L500 1300.7Z" fill="#d4d4d4"/><path d="M393.2 1498.4L418.8 1496.3L444.4 1500.5L452.9 1509.1L435.9 1513.4L414.5 1511.2L401.7 1517.6L395.3 1509.1Z" fill="#d4d4d4"/><path d="M256.6 1641.4L273.7 1635L275.8 1652.1L265.1 1664.9L256.6 1662.7Z" fill="#d4d4d4"/><path d="M295 1767.3L312.1 1765.2L322.7 1780.1L307.8 1786.5L297.1 1778Z" fill="#d4d4d4"/><path d="M700.6 1532.6L713.4 1534.7L713.4 1545.4L702.7 1545.4Z" fill="#d4d4d4"/><path d="M126.4 1104.4L143.5 1104.4L145.6 1110.8L162.7 1112.9L158.4 1121.5L147.7 1121.5L143.5 1130L126.4 1132.1Z" fill="#2363e3"/><path d="M128.5 1605.1L152 1600.9L162.7 1609.4L184 1607.3L209.6 1613.7L231 1617.9L226.7 1628.6L209.6 1630.7L184 1635L162.7 1637.1L162.7 1652.1L141.3 1656.3L128.5 1652.1Z" fill="#2363e3"/><path d="M734.8 1786.5L756.1 1780.1L781.7 1782.3L809.5 1775.9L841.5 1773.7L873.5 1771.6L899.1 1767.3L899.1 1805.7L884.1 1797.2L862.8 1792.9L841.5 1797.2L820.1 1805.7L798.8 1818.5L788.1 1833.5L777.4 1842L756.1 1839.9L743.3 1827.1L734.8 1810Z" fill="#2363e3"/><path d="M692.1 1844.1L713.4 1837.7L745.4 1842L777.4 1842L794.5 1850.5L798.8 1863.4L681.4 1863.4Z" fill="#2363e3"/><path d="M820.1 1863.4L824.4 1844.1L841.5 1848.4L862.8 1842L884.1 1846.3L899.1 1839.9L899.1 1863.4Z" fill="#2363e3"/><path d="M126.4 1136.4L145.6 1138.5L162.7 1136.4L177.6 1140.7L186.2 1149.2L184 1159.9L192.6 1168.4L205.4 1172.7L220.3 1177L231 1187.6L235.2 1204.7L239.5 1221.8L235.2 1234.6L222.4 1247.4L216 1264.5L220.3 1275.1L231 1283.7L235.2 1294.3L226.7 1302.9L211.8 1290.1L201.1 1285.8L190.4 1290.1L181.9 1287.9L173.4 1296.5L158.4 1300.7L141.3 1302.9L126.4 1311.4Z" fill="#00008b"/><path d="M186.2 1149.2L201.1 1151.4L216 1147.1L231 1147.1L239.5 1153.5L235.2 1159.9L220.3 1162L207.5 1164.2L205.4 1172.7L192.6 1168.4Z" fill="#00008b"/><path d="M235.2 1234.6L248 1230.3L256.6 1260.2L248 1290.1L239.5 1281.5L222.4 1247.4Z" fill="#00008b"/><path d="M248 1290.1L256.6 1275.1L256.6 1260.2L269.4 1255.9L273.7 1245.3L282.2 1238.9L295 1232.5L303.5 1236.7L312.1 1245.3L322.7 1255.9L331.3 1273L333.4 1287.9L324.9 1281.5L316.3 1270.9L307.8 1262.3L301.4 1268.7L297.1 1285.8L301.4 1302.9L290.7 1315.7L288.6 1330.6L269.4 1328.5L267.3 1320L256.6 1322.1L256.6 1339.2L250.2 1339.2L245.9 1324.2L243.8 1307.1Z" fill="#00008b"/><path d="M322.7 1204.7L333.4 1189.8L346.2 1179.1L363.3 1166.3L380.4 1159.9L391 1155.6L403.8 1162L418.8 1162L429.5 1170.6L446.5 1170.6L457.2 1164.2L465.7 1153.5L463.6 1140.7L472.1 1127.9L482.8 1117.2L499.9 1115.1L502 1121.5L491.3 1127.9L487.1 1140.7L482.8 1153.5L482.8 1168.4L470 1177L452.9 1181.2L435.9 1187.6L418.8 1189.8L401.7 1189.8L388.9 1198.3L376.1 1206.8L354.8 1206.8L346.2 1198.3L337.7 1217.5L327 1226L320.6 1217.5Z" fill="#00008b"/><path d="M423 1405.3L435.9 1396.8L452.9 1401L461.5 1413.9L452.9 1426.7L435.9 1424.5L425.2 1418.1Z" fill="#00008b"/><path d="M284.3 1379.7L295 1373.3L301.4 1381.8L297.1 1392.5L286.5 1390.4Z" fill="#00008b"/><path d="M781.7 1151.4L798.8 1147.1L820.1 1151.4L841.5 1147.1L850 1136.4L867.1 1132.1L884.1 1134.3L897 1140.7L899.1 1153.5L884.1 1159.9L867.1 1162L850 1159.9L837.2 1168.4L815.9 1172.7L798.8 1174.8L786 1168.4Z" fill="#00008b"/><path d="M675 1106.5L692.1 1106.5L704.9 1115.1L722 1112.9L726.2 1121.5L713.4 1125.7L696.3 1121.5L683.5 1115.1Z" fill="#00008b"/><path d="M766.8 1247.4L781.7 1251.7L798.8 1245.3L807.3 1251.7L794.5 1260.2L777.4 1262.3L768.9 1258.1Z" fill="#00008b"/><path d="M824.4 1221.8L832.9 1213.2L845.7 1215.4L841.5 1234.6L832.9 1238.9L826.5 1230.3Z" fill="#00008b"/><path d="M858.5 1302.9L867.1 1294.3L879.9 1296.5L877.7 1315.7L867.1 1324.2L858.5 1317.8Z" fill="#00008b"/><path d="M623.8 1266.6L636.6 1262.3L653.7 1262.3L653.7 1270.9L640.9 1279.4L628 1279.4Z" fill="#00008b"/><path d="M884.1 1349.8L899.9 1345.6L899.9 1381.8L888.4 1381.8L879.9 1371.2Z" fill="#00008b"/><path d="M519.9 1754.5L504.1 1758.8L482.8 1767.3L474.3 1765.2L448.7 1780.1L440.1 1784.4L435.9 1801.5L431.6 1818.5L435.9 1835.6L429.5 1842L440.1 1844.1L444.4 1863.4L519.9 1863.4Z" fill="#00008b"/><path d="M201.1 1617.9L218.2 1620.1L216 1628.6L201.1 1626.5Z" fill="#00008b"/><path d="M500 1754.5L521.3 1752.4L529.9 1763L534.1 1780.1L547 1801.5L564 1822.8L581.1 1842L598.2 1854.8L611 1863.4L500 1863.4Z" fill="#00008b"/><path d="M128.5 1168.4L158.4 1168.4L141.3 1187.6L128.5 1183.4Z" fill="#f5f5f5"/><path d="M290.7 1283.7L297.1 1260.2L301.4 1262.3L297.1 1285.8L301.4 1300.7L297.1 1302.9Z" fill="#f5f5f5"/><path d="M239.5 1290.1L248 1268.7L254.5 1247.4L256.6 1251.7L250.2 1275.1L243.8 1294.3Z" fill="#f5f5f5"/><path d="M504.1 1788.7L519.9 1780.1L519.9 1822.8L508.4 1814.3Z" fill="#f5f5f5"/><path d="M504.3 1780.1L517.1 1775.9L521.3 1801.5L512.8 1818.5L504.3 1810Z" fill="#f5f5f5"/></g></g>
<g clip-path="url(#clip3)" fill="none" stroke-linejoin="round" stroke-linecap="round"><path d="M126.5 1124L146.9 1129.5L153.2 1142.9L126.5 1143.3M148.2 1130.7L158.2 1129.9L167 1119.4L185.4 1110.6L195.4 1114.8L204.6 1109L208.8 1111.5L206.7 1115.2L211.3 1116.5L208 1121.9L220.5 1125.7L224.7 1121.1L229.7 1123.6L234.7 1133.3L239.7 1133.7L241 1144.1L240.1 1155.9L226.3 1165.9L223.8 1181L241.4 1178.5L243.1 1190.2L250.6 1194.4L246 1204.5L255.6 1207L258.9 1214.5L267.3 1211.6L272.3 1214.5M220.5 1125.7L215.1 1133.3L219.2 1140L206.7 1137.4L193.3 1145.8L187.9 1163.4L179.1 1183.1L169.5 1179.8L167 1203.6L158.6 1207L160.3 1216.2L154.9 1214.5M126.5 1163.8L158.2 1168.4L139.8 1184.4L145.7 1194.8L151.5 1183.5L155.3 1185.2L158.6 1206.2M272.3 1214.5L258.1 1229.6L249.8 1228.4L241.4 1236.7L231.4 1236.3L226.3 1252.2L221.3 1253.1L226.3 1261.8M258.1 1229.6L263.1 1231.3L264 1238.8L272.3 1239.7L269.8 1261.8M273.7 1217.9L278.7 1217.9L278.7 1202L284.5 1202L288.7 1196.9L296.2 1201.1L300.4 1196.9L307.9 1201.1L325.9 1189L333.8 1195.3L345.5 1196.5L344.7 1207.8L358.1 1212M284.5 1202L287 1207L290.4 1211.2L294.6 1211.2L293.7 1217L297.1 1222.1L303.8 1225.4L309.6 1220.8L316.3 1223.8L314.6 1228.4L321.3 1233L318 1238.8L307.9 1239.7L307.1 1243L320.5 1248.9L330.5 1261.8M253.1 1340.5L238.1 1361.5L228.9 1370.7M248.9 1228.2L243.1 1236.6L230.6 1236.6L227.2 1252.5L221.4 1252.9L241.4 1281.9L243.1 1281L232.2 1297.8L245.6 1314.5L248.9 1328.8L252.3 1340.5M292.4 1337.2L286.6 1318.7L298.3 1307.8L316.7 1307.4M321.3 1233.2L317.1 1238.3L307.9 1239.1L307.1 1243.3L322.2 1250.8L334.7 1265.1L343 1278.5L353.9 1285.2L350.6 1288.6L357.3 1296.1L354.8 1303.6L348.1 1308.7L336.4 1307L331.3 1307.8M354.8 1303.6L353.9 1316.2L355.6 1333L348.1 1337.2L338.9 1340.5L332.2 1344.7L334.7 1348L336.4 1354.8L328 1353.1M316.3 1307.4L324.7 1307.4L326.3 1300.3L324.7 1295.3L328 1292.7L331.3 1295.3M325.5 1353.9L316.3 1359.8M249.7 1412L256.3 1412M260.1 1408.7L266.7 1410.6L271.5 1422L280 1421L283.8 1415.3M384.7 1475.1L395.2 1485.6L410.3 1483.7L420.7 1475.1L435.9 1479.9L449.2 1476.1L464.3 1439.1L500.3 1440M442.5 1437.2L448.2 1443.8L452 1435.3M455.8 1434.3L457.7 1440M794.2 1532.1L794.2 1614.5M637 1697.6L637 1752.2M637.6 1733.5L637.6 1863.9M637.6 1838.5L660.5 1838.5M755.1 1714.3L755.1 1837.8M650 1838.5L794.9 1838.5L794.9 1863.9" stroke="#f5c400" stroke-width="1.2"/><path d="M126.5 1210.3L129.4 1204.5L132.3 1199L134.8 1196.9L141.9 1196.9L145.3 1200.7L148.6 1206.2L152 1212L156.1 1219.6L161.1 1230.5L163.7 1229.2L166.6 1225.4L166.2 1230.5L170.3 1232.6L175.4 1235.5L177.9 1239.7L173.7 1239.7L169.9 1242.2L174.5 1248.1L177.9 1247.2L179.5 1242.2L181.2 1248.1L183.7 1256.4L185 1261.8M129.4 1208.7L132.7 1202L133.6 1207L135.7 1202L136.5 1205.3M126.5 1156.3L133.6 1151.3M340.5 1261.8L331.3 1248.1L330.5 1244.7L333.8 1234.6L341.4 1230.5L343 1224.6L346.4 1225.4L343.9 1222.1L353.9 1220L358.1 1213.3L365.6 1212.9L368.9 1209.5L376.5 1215.4L382.3 1210.8L386.9 1214.5L384.8 1217.9L383.2 1222.1L386.5 1231.3L391.5 1231.3L392.8 1217.9L391.5 1215.4L394 1217.9L409.1 1213.7L410.7 1210.3L419.1 1210.3L420.8 1207.8L426.6 1208.7L430.5 1206.2M327.2 1215.8L340.5 1229.2M378.1 1234.2L399.9 1233L401.5 1238L394 1251.4L381.5 1258.1L374.8 1254.8L369.8 1243.9L378.1 1234.2M388.6 1189L405.7 1187.7L409.1 1191.9L424.1 1191.9L427.5 1197.8L430.5 1201.1M185 1261.7L186.3 1265.1L183.3 1275.1L181.2 1286L184.6 1286.9L183.8 1282.7L188.8 1287.7L192.1 1285.2L196.3 1290.2L198.8 1284.4L207.2 1280.2L204.6 1276L208.8 1277.7L215.5 1275.1L215.5 1266.8L219.7 1274.3L223 1278.5L227.2 1279.3L228.9 1295.3L230.6 1305.3L232.2 1316.2L234.7 1314.5L234.7 1319.6L239.8 1327.9L238.1 1337.2L241.4 1342.2L238.1 1351.4L236.4 1358.9L238.1 1365.6L234.7 1378.2L234.7 1387.4L238.1 1389.1L243.1 1392.8M259.8 1392.8L256.5 1383.2L254 1375.7L247.3 1372.3L245.6 1365.6L246.4 1358.9L253.1 1343.9L256.1 1337.2L255.2 1320.4L269.8 1318.7L269.8 1328.8L279.9 1329.6L292.4 1337.2L294.9 1345.5L298.3 1353.9L302.4 1349.7L304.1 1357.3L311.6 1360.6L323.3 1366.5M263.2 1228.2L264 1239.1L273.2 1240L268.2 1265.1L271.5 1265.9L283.2 1257.1L290.7 1262.6L296.6 1256.3L300.8 1253.4L309.1 1255L320 1268.4L319.2 1278.5L328.4 1286.9M341.4 1229.1L333.9 1234.9L330.5 1247.5L341.4 1261.7L348.9 1272.6L354.8 1277.7L366.5 1283.5L374 1295.3L377.3 1312L379.8 1328.8L376.5 1331.3L374.8 1347.2L351.4 1359.8L346.4 1358.9L346.4 1350.6L343.9 1362.3L341.4 1358.9L343.9 1365.6L339.7 1364L342.2 1370.7L336.4 1367.3L334.7 1372.3L322.2 1379.1L318.8 1378.2L323 1365.6L317.1 1362.3L307.1 1357.3L302.9 1351.4L299.6 1353.9L294.6 1345.5M319.6 1278.5L327.2 1286L331.3 1295.3L333.9 1307L334.7 1320.4L333.9 1333L326.3 1338L322.2 1343.9L323.8 1352.2L329.7 1358.1L338 1362.3M315.5 1331.3L321.3 1345.5M420 1191.9L424.2 1192.3L429.2 1202L426.3 1202L425.9 1207.8L421.7 1207.8M429.2 1202L432.6 1192.7L440.9 1202L438.4 1203.6L441.8 1204.5L451.8 1196.1L451.8 1200.3L457.6 1195.3L461 1198.6L471.8 1194.4L475.2 1191.1L472.7 1188.6L483.5 1186L483.5 1181.9L486.9 1185.2L494.4 1177.7L490.2 1174.3L500.3 1174.3L498.6 1169.3L505.3 1170.1L502.8 1165.1L510.3 1165.9L508.6 1160.1L514.5 1163.4L512.8 1155.9L517 1150.9L512.8 1144.1L519.5 1146.7L529.5 1129.9L527 1127L540.4 1124.9L537 1119.8L542.9 1116.5L537 1114L544.6 1111.5L537.9 1109L545.4 1106.4L547.1 1103.5M463.5 1103.5L470.2 1104.8L466.8 1106.4L465.6 1112.3L472.7 1118.6L476 1113.6L469.8 1111.5M539.5 1163.4L545.4 1167.6L531.2 1206.2L528.7 1205.3L519.5 1192.7L520.3 1185.2L539.5 1163.4M526.7 1252.1L549.9 1254.4L546.4 1262.9L551.7 1274.5L536.5 1295.1L540.1 1305.8L548.1 1312.1L546.4 1309.4L554.4 1307.6L558 1313L561.5 1316.5L565.1 1312.1L570.5 1315.6L564.2 1318.3L566 1323.7L573.1 1324.6L574.9 1328.2L577.6 1331.7L586.5 1330.8L591.9 1336.2L594.6 1351.4L585.6 1347.8L584.7 1340.7L577.6 1333.5L571.3 1330L569.6 1325.5L562.4 1325.5L555.3 1316.5L550.8 1313L553.5 1323.7L541.9 1313L534.8 1318.3L527.6 1314.7L530.3 1303.1L525.8 1302.2L524.9 1306.7L518.7 1301.3L519.6 1296.9L516.9 1292.4L515.1 1286.1L516.9 1280.7L519.6 1283.4L525.8 1283.4L526.7 1252.1M543.7 1339.8L557.1 1346.1L560.6 1343.4L559.7 1350.5L545.5 1359.5L543.7 1339.8M560.6 1351.4L565.1 1355L562.4 1374.7L558 1378.3L549.9 1367.5L557.1 1362.2L560.6 1351.4M599 1414.4L606.2 1398.8L603.5 1385.4L599 1381.8L600.8 1372.9L590.1 1367.5L591 1378.3L581.2 1378.3L582.1 1383.6L575.8 1383.6L566.9 1390.8L570.5 1386.3L562.4 1381.4L546.4 1391.7L549.9 1396.2L543.7 1407.8L547.3 1411.4L553.5 1397.9L562.4 1402.4L566.9 1395.3L574.9 1400.6L573.1 1414.4M591 1414.4L589.2 1406L593.7 1400.6L597.2 1408.7L599 1414.4M480.3 1389.9L490.1 1381.8L502.6 1366.6L508 1360.4L508.9 1353.2L511.6 1346.1L515.1 1358.6L510.7 1360.4L498.2 1374.7L482.1 1390.8L480.3 1389.9M236.4 1380.2L233.6 1387.8L238.3 1385.9L245.9 1396.3L256.3 1407.7L260.1 1408.7L261 1420.1L263.9 1439.1L272.4 1458.1L291.4 1471.4L302.7 1479.4L312.2 1478.5L305.6 1465.7L301.8 1458.1L302.3 1437.2L297 1426.7L285.7 1415.3L277.1 1406.8L262 1403L258.2 1389.7L257.3 1380.2M304.6 1478L308.4 1474.2L312.2 1478.5M193.3 1422.9L222.2 1426.7L233.6 1437.2L231.7 1441.9L256.3 1457.1L267.7 1472.3L270.5 1465.7L272.4 1471.4L286.6 1483.7L293.3 1486.5L297 1490.3L291.4 1494.1L297 1490.3L301.8 1489.4L305.6 1493.2L299.9 1505.5L314.1 1510.3L316 1522.6L320.7 1525.5L317.9 1532.1L320.7 1527.4L331.1 1528.3L336.8 1541.6L334.9 1551.1L332.1 1566.7M193.3 1422.9L197.6 1434.3L214.6 1447.6L226.9 1465.7L240.2 1472.3L244.9 1492.2L260.1 1506.5L278.1 1537.8L310.3 1566.7M324.5 1524.5L326.4 1517.9L335.9 1516.9L340.6 1530.2L346.3 1531.2L344.4 1536.9L334.9 1534L331.1 1525.5L324.5 1524.5M382.8 1468.5L375.3 1477L372.4 1482.7L373.8 1493.2L378.1 1496L375.3 1502.7L381.9 1505.5L382.8 1510.3L379 1513.1L387.6 1512.2L390.4 1534L409.4 1533.1L413.2 1543.5L427.4 1535L434.9 1537.8L434.9 1541.6L447.3 1541.6L448.2 1551.1L468.1 1538.8L467.2 1534L470 1536.9L474.7 1525.5L469 1519.8L474.7 1512.2L477.6 1513.1L488 1506.5L487 1496L493.7 1484.6L490.8 1481.8L498.4 1484.6L506 1483.2L488.9 1471.4L493.7 1465.7L479.5 1449.5L489.9 1447.6L484.2 1441.9L500.3 1439.1L494.6 1431.5L508.8 1425.8L496.5 1419.1L491.8 1422L493.7 1417.2L487 1418.2L488.9 1411.5L481.4 1403.9L477.6 1409.6L475.7 1403.9L464.3 1422.9L457.7 1424.8L461.5 1427.7L458.6 1431.5L439.7 1435.3L427.4 1454.3L407.5 1460L403.7 1478L387.6 1474.2L382.8 1468.5M581.3 1380.2L580.4 1384L574.7 1384.9L569 1389.7L565.2 1385.9L562.4 1382.1L548.2 1391.6L543.4 1403L547.2 1405.8L552.9 1394.4L564.3 1399.2L569 1394.4L574.7 1399.2L571.9 1410.6L584.2 1419.1L588 1416.3L589.9 1422.9L593.6 1418.2L589.9 1408.7L593.6 1400.1L600.3 1413.4L599.3 1405.8L605 1399.2L603.1 1384.9L598.4 1382.1L599.3 1380.2M503.7 1532.1L509.3 1521.7L510.3 1513.1L516.9 1506.5L514.1 1497.9L518.8 1491.3L521.6 1483.7L525.4 1485.6L531.1 1478L570.9 1485.6L587 1473.7L576.6 1490.3L522.6 1490.8L519.8 1503.6L527.3 1513.1L533 1515L539.6 1506.5L564.3 1506.5L535.9 1521.7L552 1537.8L546.3 1544.5L556.7 1554L544.4 1555.9L541.5 1560.6L538.7 1550.2L529.2 1541.6L532.1 1530.2L527.3 1531.2L520.7 1535.9L524.5 1566.7M503.7 1541.6L512.2 1542.6L512.2 1566.7M623 1466.6L623 1475.1L616.4 1482.7L620.2 1498.9L629.6 1508.4L624 1498.9L623 1490.3L636.3 1493.2L627.8 1484.6L633.4 1480.8L633.4 1475.1L624.9 1479.9L623 1475.1M622.1 1543.5L624.9 1536.9L637.2 1533.1L655.2 1535.9L661.9 1547.3L648.6 1539.7L629.6 1541.6L626.8 1537.8L622.1 1543.5M503.7 1423.9L509.3 1426.2L503.7 1429.6M661.9 1514L667.4 1506.3L682.1 1500.7L703 1505.6L705 1529.3L709.2 1534.9L710.6 1529.3L717.6 1541.2L725.9 1538.4L734.3 1525.1L744.1 1523L744.1 1519.5L753.8 1515.3L781.7 1525.8L841.6 1546.1L856.9 1560L856.9 1568.4L883.4 1577.5L884.8 1583.8L873.6 1585.2L876.4 1593.6L887.5 1600.5L895.9 1615.9L902.9 1615.2L904.3 1620.8L908.4 1620.8L909.8 1627.1L912.6 1627.1M661.9 1514L675.8 1515.3L680 1526.5L700.9 1524.4L698.1 1530.7L692.5 1527.9L685.5 1534.2L675.8 1533.5L686.9 1537.7L688.3 1550.3L696.7 1546.1L699.5 1534.9L698.1 1544.7L713.4 1548.9L710.6 1551.7L719 1554.5L756.6 1567L756.6 1572.6L760.8 1571.9L763.6 1583.8L767.7 1585.9L762.2 1588L771.2 1590.1L766.3 1592.2L768.4 1601.9L780.3 1601.9L782.4 1601.9L796.3 1618L810.2 1615.9L815.8 1619.4L825.6 1611.7L810.9 1604L829.7 1604L833.2 1599.8L829.7 1594.3L837.4 1598.4L841.6 1593.6L845.8 1599.1L861.1 1602.6L882 1628.5L912.6 1634.8M768.4 1596.4L756.6 1595.7L749.6 1606.8L768.4 1601.9M912.6 1567L890.3 1569.1L907.1 1579.6L912.6 1577.5M660.5 1662L664.6 1655.7L668.8 1658.5L685.5 1655L686.2 1649.4L676.5 1642.4L672.3 1644.5M686.2 1649.4L695.3 1652.2L700.9 1650.8L705 1657.1L710.6 1653.6L719 1658.5L727.3 1654.3L730.1 1660.6L736.4 1652.2L741.3 1658.5L735.7 1662L734.3 1670.4L727.3 1671.1L728.7 1677.4L721.1 1692.7L738.5 1704.6L767.7 1716.5L777.5 1726.9L788.6 1727.6L797 1708.1L802.6 1694.1L799.8 1680.1L806.7 1663.4L801.9 1661.3L807.4 1655L810.2 1639.6L813.7 1636.9L817.9 1643.8L826.9 1663.4L831.1 1686.4L840.2 1682.9L852.7 1694.1L854.1 1713.7L860.4 1719.3L865.3 1743.8M325.9 1523.9L332.6 1526.1L338.2 1526.1L339.3 1530L346 1531.2L344.3 1535.6L336.5 1534.5L335.4 1555.2L332.6 1565.3L330.4 1573.1L325.9 1570.9M325.9 1586.5L332.6 1582L336.5 1573.7L363.9 1577L372.8 1586.5L392.9 1587.6L400.7 1580.4L420.8 1586L429.7 1598.8L446.4 1599.4L445.8 1603.3L447.5 1611.1L433 1608.3L388.4 1601.6L370.6 1596L360.5 1597.7L341.5 1592.7L341.5 1587.6L332.6 1586L325.9 1586.5M510 1521.7L502.2 1533.4L505.5 1542.4L512.2 1542.9L512.2 1569.7L525.6 1569.7L523.4 1536.2L524.5 1532.8L530.1 1531.7L532.3 1542.9L535 1546.3M476.5 1610.6L481 1606.7L489.9 1607.8L488.8 1603.9L496.6 1605.5L508.9 1609.4L494.4 1612.8L481 1615.6L476.5 1610.6M532.7 1532.1L530.4 1538.9L537.1 1545.6L540.5 1559L544.9 1560.7L546 1554.5L557.2 1553.4L549.4 1544.4L551.6 1537.7L546 1532.1M515.9 1611L523.7 1604.8L537.1 1609.3L552.7 1606.5L558.3 1604.8L556.1 1603.2L552.7 1608.2L540.5 1613.8L526 1612.1L515.9 1611M504.8 1621.6L517 1618.3L529.3 1628.3L524.8 1632.8L519.3 1628.9L504.8 1621.6M563.9 1632.8L567.2 1622.7L586.2 1609.3L615.2 1605.9L598.5 1617.1L573.9 1632.8L563.9 1632.8M550.5 1733.4L547.2 1722.3L557.2 1712.2L561.7 1722.3L566.1 1729L564.4 1722.3L570.6 1724.5L569.5 1717.8L563.9 1716.7L566.1 1710L584 1711.1L576.2 1706.6L580.6 1704.4L575 1702.1L579.5 1696.5L587.3 1701L590.7 1695.4L586.2 1690.9L592.9 1683.1L596.2 1689.8L598.5 1679.8L601.8 1684.2L604 1679.8L606.3 1684.2L609.6 1677.5L617.4 1680.9L626.4 1690.9L624.1 1699.9L626.4 1696.5L628.6 1699.9L629.7 1690.9L636.4 1688.7L638.6 1697.6L642 1690.9L645.3 1696.5L649.8 1689.8L642 1685.3L648.7 1673L654.2 1671.9L655.4 1661.9L658.7 1663L657.6 1658.5L662.1 1663L660.9 1658.5L667.6 1655.2L669.9 1657.4L684.4 1656.3L686.6 1649.6L673.2 1645.1L675.4 1642.3L686.6 1646.2L697.8 1650.7L701.1 1649.6L705.6 1656.3L712.7 1654M443 1863.9L435.7 1847.2L428.5 1840L438.6 1845.1L438.6 1832L443 1842.2L437.9 1830.5L432.1 1817.5L439.4 1784.1L444.4 1792.8L447.3 1784.1L476.3 1765.9L484.3 1770.3L507.5 1758.6L533.5 1752.8L550.5 1733.5M851.4 1699.8L852.1 1711.4L859.4 1718.7L863 1743.4L896.3 1762.3L907.9 1792.8L912.3 1791.3M310.4 1566.7L318.6 1569.3L325.9 1570.9L330.4 1573.1" stroke="#ffd500" stroke-width="2.3"/></g>
<path d="M256.2 1104V1863.4M387.4 1104V1863.4M518.6 1104V1863.4M649.8 1104V1863.4M781 1104V1863.4M126.2 1208.1H899M126.2 1339.1H899M126.2 1470.1H899M126.2 1601.1H899M126.2 1732.1H899" fill="none" stroke="#000" stroke-width="1.9" stroke-dasharray="1.9 1.8"/>
<rect x="126.2" y="1104" width="772.8" height="759.4" fill="none" stroke="#000" stroke-width="1.6"/>
<g font-family="'DejaVu Sans', 'Liberation Sans', sans-serif" font-size="22" fill="#111"><text x="117.7" y="1214.7" text-anchor="end">22°N</text><text x="117.7" y="1345.7" text-anchor="end">12°N</text><text x="117.7" y="1476.7" text-anchor="end">2°N</text><text x="117.7" y="1607.7" text-anchor="end">8°S</text><text x="117.7" y="1738.7" text-anchor="end">18°S</text><text x="117.7" y="1869.7" text-anchor="end">28°S</text><text x="125.5" y="1889.8" text-anchor="middle">90°E</text><text x="256.7" y="1889.8" text-anchor="middle">100°E</text><text x="387.9" y="1889.8" text-anchor="middle">110°E</text><text x="519.1" y="1889.8" text-anchor="middle">120°E</text><text x="650.3" y="1889.8" text-anchor="middle">130°E</text><text x="781.5" y="1889.8" text-anchor="middle">140°E</text></g>
</g>
<g id="panel4">
<g clip-path="url(#clip4)"><rect x="1217.4" y="1096" width="757" height="744.6" fill="#f5f5f5"/><g filter="url(#spk4_2)" fill="#d4d4d4"><path d="M1217.5 1384.5L1252.7 1393L1316.7 1388.8L1346.6 1399.5L1348.7 1431.5L1316.7 1414.4L1274 1405.9L1217.5 1422.9Z" fill-opacity="0.62"/><path d="M1217.5 1452.8L1274 1457.1L1316.7 1469.9L1329.5 1498L1217.5 1498Z" fill-opacity="0.72"/><path d="M1504.5 1260.7L1540.8 1239.4L1583.5 1228.7L1609.9 1228.7L1609.9 1256.5L1551.5 1265L1513 1282.1Z" fill-opacity="0.57"/><path d="M1423.4 1463.5L1466.1 1465.6L1476.8 1498L1423.4 1498Z" fill-opacity="0.52"/><path d="M1730.9 1292.7L1782.1 1303.4L1803.4 1324.8L1782.1 1346.1L1771.4 1378.1L1750.1 1410.1L1730.9 1410.1Z" fill-opacity="0.57"/><path d="M1683.9 1399.5L1709.5 1414.4L1730.9 1431.5L1760.7 1442.1L1771.4 1463.5L1739.4 1463.5L1696.7 1442.1L1675.4 1422.9Z" fill-opacity="0.62"/><path d="M1867.4 1463.5L1910.1 1457.1L1931.5 1474.1L1910.1 1495.5L1867.4 1484.8Z" fill-opacity="0.62"/><path d="M1602.8 1463.5L1664.7 1461.3L1686 1484.8L1654 1498L1602.8 1498Z" fill-opacity="0.52"/><path d="M1739.4 1143.4L1782.1 1143.4L1824.8 1149.8L1803.4 1158.3L1750.1 1154Z" fill-opacity="0.52"/><path d="M1649.8 1107.1L1675.4 1107.1L1679.6 1132.7L1654 1128.4Z" fill-opacity="0.47"/><path d="M1242 1461.3L1295.4 1465.6L1338 1482.7L1338 1504L1284.7 1493.4L1242 1482.7Z" fill-opacity="0.57"/><path d="M1338 1557.4L1380.7 1559.5L1402.1 1578.7L1380.7 1593.7L1346.6 1589.4Z" fill-opacity="0.62"/><path d="M1476.8 1664.1L1508.8 1642.7L1551.5 1632.1L1562.1 1653.4L1530.1 1674.8L1487.4 1685.4Z" fill-opacity="0.62"/><path d="M1444.8 1685.4L1487.4 1685.4L1530.1 1674.8L1572.8 1685.4L1560 1708.9L1530.1 1728.1L1487.4 1728.1L1455.4 1717.4Z" fill-opacity="0.62"/><path d="M1487.4 1542.4L1551.5 1536L1594.1 1557.4L1572.8 1572.3L1508.8 1568Z" fill-opacity="0.52"/><path d="M1348.7 1589.4L1402.1 1593.7L1423.4 1610.7L1380.7 1621.4L1359.4 1610.7Z" fill-opacity="0.52"/><path d="M1643.4 1504L1696.7 1499.8L1760.7 1514.7L1803.4 1536L1824.8 1568L1803.4 1589.4L1771.4 1578.7L1728.7 1557.4L1675.4 1542.4L1645.5 1525.4Z" fill-opacity="0.72"/><path d="M1686 1589.4L1728.7 1600.1L1760.7 1621.4L1739.4 1632.1L1696.7 1610.7Z" fill-opacity="0.57"/><path d="M1782.1 1589.4L1846.1 1600.1L1856.8 1621.4L1803.4 1617.1Z" fill-opacity="0.57"/><path d="M1803.4 1482.7L1867.4 1461.3L1910.1 1472L1888.8 1493.4L1824.8 1504Z" fill-opacity="0.57"/><path d="M1632.7 1760.1L1675.4 1749.5L1718 1760.1L1782.1 1760.1L1824.8 1781.5L1824.8 1813.5L1760.7 1813.5L1696.7 1802.8L1654 1781.5Z" fill-opacity="0.62"/><path d="M1856.8 1728.1L1910.1 1717.4L1975.2 1728.1L1975.2 1749.5L1910.1 1749.5L1867.4 1749.5Z" fill-opacity="0.57"/><path d="M1910.1 1589.4L1952.8 1593.7L1942.1 1610.7L1914.4 1606.5Z" fill-opacity="0.52"/></g><g filter="url(#spk4_1)" fill="#00008b"><path d="M1346.6 1252.2L1359.4 1243.7L1372.2 1230.9L1389.3 1226.6L1402.1 1235.1L1414.9 1252.2L1421.3 1273.5L1414.9 1282.1L1402.1 1273.5L1393.5 1260.7L1385 1269.3L1389.3 1286.3L1380.7 1303.4L1376.5 1320.5L1359.4 1318.4L1357.3 1309.8L1346.6 1312L1346.6 1324.8L1338 1324.8L1333.8 1303.4L1338 1282.1Z" fill-opacity="0.68"/><path d="M1274 1139.1L1306 1139.1L1329.5 1145.5L1325.2 1154L1308.2 1160.4L1295.4 1162.6L1280.4 1154Z" fill-opacity="0.55"/><path d="M1312.4 1196.7L1329.5 1209.5L1338 1226.6L1346.6 1252.2L1338 1282.1L1321 1282.1L1316.7 1265L1303.9 1247.9L1299.6 1226.6L1303.9 1209.5Z" fill-opacity="0.46"/><path d="M1217.5 1299.1L1252.7 1292.7L1282.6 1282.1L1299.6 1292.7L1297.5 1314.1L1303.9 1335.4L1299.6 1367.4L1274 1378.1L1252.7 1367.4L1217.5 1367.4Z" fill-opacity="0.37"/><path d="M1217.5 1367.4L1299.6 1367.4L1325.2 1378.1L1316.7 1399.5L1284.7 1410.1L1252.7 1405.9L1217.5 1410.1Z" fill-opacity="0.28"/><path d="M1346.6 1329L1380.7 1326.9L1402.1 1341.8L1423.4 1333.3L1455.4 1339.7L1461.8 1365.3L1423.4 1386.6L1391.4 1390.9L1359.4 1382.4L1346.6 1365.3Z" fill-opacity="0.41"/><path d="M1284.7 1410.1L1316.7 1414.4L1338 1442.1L1359.4 1474.1L1380.7 1498L1338 1498L1316.7 1463.5L1291.1 1431.5Z" fill-opacity="0.46"/><path d="M1348.7 1397.3L1380.7 1403.7L1393.5 1429.3L1402.1 1463.5L1389.3 1465.6L1359.4 1440Z" fill-opacity="0.41"/><path d="M1231.3 1420.8L1284.7 1431.5L1295.4 1448.5L1252.7 1452.8L1231.3 1442.1Z" fill-opacity="0.24"/><path d="M1508.8 1282.1L1530.1 1271.4L1572.8 1260.7L1609.9 1256.5L1609.9 1324.8L1583.5 1335.4L1551.5 1324.8L1519.5 1314.1Z" fill-opacity="0.46"/><path d="M1476.8 1346.1L1519.5 1335.4L1551.5 1331.2L1609.9 1329L1609.9 1378.1L1572.8 1382.4L1530.1 1373.8L1487.4 1367.4Z" fill-opacity="0.37"/><path d="M1487.4 1418.7L1513 1410.1L1542.9 1414.4L1572.8 1401.6L1609.9 1418.7L1609.9 1452.8L1583.5 1452.8L1551.5 1442.1L1519.5 1442.1L1498.1 1440Z" fill-opacity="0.46"/><path d="M1423.4 1431.5L1455.4 1422.9L1476.8 1442.1L1466.1 1463.5L1434.1 1457.1Z" fill-opacity="0.33"/><path d="M1476.8 1463.5L1530.1 1452.8L1572.8 1463.5L1609.9 1474.1L1609.9 1498L1476.8 1498Z" fill-opacity="0.41"/><path d="M1346.6 1102.8L1380.7 1102.8L1397.8 1132.7L1393.5 1149.8L1359.4 1145.5L1346.6 1128.4Z" fill-opacity="0.19"/><path d="M1346.6 1209.5L1372.2 1205.2L1393.5 1209.5L1402.1 1226.6L1389.3 1226.6L1372.2 1230.9L1359.4 1243.7L1346.6 1252.2Z" fill-opacity="0.28"/><path d="M1380.7 1303.4L1414.9 1282.1L1423.4 1303.4L1419.1 1324.8L1385 1326.9Z" fill-opacity="0.37"/><path d="M1756.5 1098.5L1803.4 1098.5L1824.8 1111.3L1856.8 1122L1856.8 1143.4L1824.8 1154L1792.7 1143.4L1771.4 1122Z" fill-opacity="0.37"/><path d="M1739.4 1175.4L1782.1 1154L1824.8 1154L1856.8 1164.7L1922.9 1154L1974.1 1149.8L1974.1 1186L1931.5 1192.4L1888.8 1186L1846.1 1192.4L1803.4 1196.7L1760.7 1201Z" fill-opacity="0.33"/><path d="M1675.4 1098.5L1701 1098.5L1701 1122L1686 1132.7L1675.4 1115.6Z" fill-opacity="0.19"/><path d="M1669 1252.2L1696.7 1239.4L1728.7 1247.9L1739.4 1256.5L1726.6 1273.5L1696.7 1282.1L1675.4 1275.7Z" fill-opacity="0.46"/><path d="M1730.9 1260.7L1782.1 1256.5L1846.1 1252.2L1910.1 1252.2L1963.5 1260.7L1974.1 1282.1L1931.5 1303.4L1888.8 1303.4L1846.1 1314.1L1803.4 1320.5L1760.7 1303.4L1735.1 1292.7Z" fill-opacity="0.37"/><path d="M1824.8 1239.4L1856.8 1218L1899.5 1196.7L1974.1 1196.7L1974.1 1239.4L1931.5 1243.7L1897.3 1239.4L1846.1 1252.2Z" fill-opacity="0.37"/><path d="M1590 1271.4L1611.3 1282.1L1643.4 1292.7L1654 1314.1L1632.7 1335.4L1622 1367.4L1590 1378.1Z" fill-opacity="0.46"/><path d="M1590 1378.1L1622 1378.1L1654 1399.5L1686 1420.8L1683.9 1442.1L1654 1452.8L1622 1463.5L1590 1452.8Z" fill-opacity="0.46"/><path d="M1692.4 1393L1718 1378.1L1730.9 1384.5L1730.9 1410.1L1709.5 1414.4Z" fill-opacity="0.28"/><path d="M1858.9 1335.4L1899.5 1329L1942.1 1335.4L1975.2 1324.8L1975.2 1495.5L1952.8 1484.8L1931.5 1452.8L1899.5 1431.5L1867.4 1399.5L1856.8 1367.4Z" fill-opacity="0.41"/><path d="M1777.8 1331.2L1803.4 1329L1803.4 1346.1L1782.1 1348.2Z" fill-opacity="0.19"/><path d="M1643.4 1207.4L1696.7 1201L1728.7 1209.5L1718 1228.7L1675.4 1235.1L1643.4 1228.7Z" fill-opacity="0.15"/><path d="M1218.5 1623.5L1263.4 1623.5L1316.7 1617.1L1348.7 1610.7L1372.2 1627.8L1367.9 1649.1L1350.9 1674.8L1338 1691.8L1306 1700.4L1263.4 1702.5L1218.5 1706.8Z" fill-opacity="0.55"/><path d="M1218.5 1706.8L1306 1700.4L1338 1706.8L1338 1728.1L1295.4 1738.8L1252.7 1734.5L1218.5 1749.5Z" fill-opacity="0.37"/><path d="M1242 1728.1L1284.7 1723.8L1338 1738.8L1333.8 1751.6L1284.7 1749.5L1248.4 1743Z" fill-opacity="0.41"/><path d="M1346.6 1674.8L1380.7 1674.8L1423.4 1685.4L1455.4 1685.4L1466.1 1706.8L1444.8 1738.8L1402.1 1728.1L1359.4 1717.4L1346.6 1696.1Z" fill-opacity="0.37"/><path d="M1359.4 1728.1L1402.1 1738.8L1434.1 1760.1L1466.1 1760.1L1476.8 1781.5L1444.8 1802.8L1402.1 1792.1L1376.5 1760.1Z" fill-opacity="0.46"/><path d="M1218.5 1781.5L1252.7 1785.7L1306 1792.1L1359.4 1790L1423.4 1792.1L1423.4 1819.9L1380.7 1813.5L1316.7 1811.3L1252.7 1819.9L1218.5 1822Z" fill-opacity="0.41"/><path d="M1466.1 1738.8L1508.8 1728.1L1517.3 1760.1L1504.5 1802.8L1476.8 1813.5L1466.1 1781.5Z" fill-opacity="0.24"/><path d="M1338 1472L1363.7 1465.6L1380.7 1493.4L1402.1 1521.1L1391.4 1529.6L1363.7 1514.7L1346.6 1493.4Z" fill-opacity="0.28"/><path d="M1474.6 1472L1508.8 1467.7L1542.9 1478.4L1551.5 1499.8L1530.1 1514.7L1487.4 1510.4L1474.6 1493.4Z" fill-opacity="0.41"/><path d="M1551.5 1461.3L1585.6 1467.7L1572.8 1504L1555.7 1499.8Z" fill-opacity="0.19"/><path d="M1218.5 1824.1L1295.4 1824.1L1295.4 1841.2L1218.5 1841.2Z" fill-opacity="0.19"/><path d="M1455.4 1813.5L1508.8 1824.1L1513 1841.2L1455.4 1841.2Z" fill-opacity="0.15"/><path d="M1590 1760.1L1615.6 1747.3L1632.7 1760.1L1654 1792.1L1686 1813.5L1718 1830.5L1739.4 1841.2L1675.4 1841.2L1632.7 1828.4L1611.3 1815.6L1590 1807.1Z" fill-opacity="0.28"/><path d="M1686 1717.4L1728.7 1713.2L1782.1 1717.4L1824.8 1713.2L1846.1 1728.1L1835.4 1760.1L1803.4 1770.8L1782.1 1749.5L1739.4 1749.5L1696.7 1738.8Z" fill-opacity="0.24"/><path d="M1696.7 1760.1L1739.4 1760.1L1760.7 1802.8L1739.4 1824.1L1707.4 1802.8Z" fill-opacity="0.19"/><path d="M1739.4 1830.5L1782.1 1819.9L1824.8 1815.6L1846.1 1824.1L1846.1 1841.2L1739.4 1841.2Z" fill-opacity="0.37"/><path d="M1846.1 1749.5L1888.8 1738.8L1931.5 1749.5L1922.9 1764.4L1888.8 1781.5L1867.4 1802.8L1846.1 1792.1Z" fill-opacity="0.24"/><path d="M1867.4 1813.5L1910.1 1802.8L1975.2 1813.5L1975.2 1841.2L1867.4 1841.2Z" fill-opacity="0.24"/><path d="M1952.8 1685.4L1975.2 1679L1975.2 1713.2L1957.1 1713.2Z" fill-opacity="0.37"/><path d="M1920.8 1444.3L1975.2 1444.3L1975.2 1482.7L1942.1 1478.4Z" fill-opacity="0.37"/><path d="M1888.8 1482.7L1931.5 1482.7L1975.2 1499.8L1975.2 1514.7L1910.1 1504Z" fill-opacity="0.19"/><path d="M1688.2 1585.1L1709.5 1585.1L1730.9 1610.7L1726.6 1632.1L1705.2 1621.4Z" fill-opacity="0.19"/><path d="M1756.5 1589.4L1782.1 1593.7L1786.3 1610.7L1765 1608.6Z" fill-opacity="0.19"/><path d="M1590 1461.3L1622 1457.1L1643.4 1504L1632.7 1536L1602.8 1525.4L1590 1504Z" fill-opacity="0.19"/><path d="M1760.7 1510.4L1792.7 1510.4L1792.7 1529.6L1765 1529.6Z" fill-opacity="0.24"/><path d="M1771.4 1649.1L1803.4 1642.7L1803.4 1674.8L1782.1 1685.4Z" fill-opacity="0.15"/><path d="M1856.8 1525.4L1899.5 1525.4L1899.5 1578.7L1856.8 1578.7Z" fill-opacity="0.11"/></g><g filter="url(#rag4)"><path d="M1217.5 1126.3L1242 1124.1L1263.4 1128.4L1274 1139.1L1280.4 1154L1295.4 1162.6L1308.2 1175.4L1312.4 1196.7L1303.9 1209.5L1299.6 1226.6L1303.9 1247.9L1295.4 1260.7L1282.6 1256.5L1274 1267.1L1282.6 1277.8L1274 1288.5L1252.7 1292.7L1231.3 1294.9L1217.5 1299.1Z" fill="#00008b"/><path d="M1217.5 1098.5L1237.7 1098.5L1244.1 1109.2L1231.3 1117.7L1217.5 1115.6Z" fill="#00008b"/><path d="M1346.6 1260.7L1363.7 1252.2L1380.7 1256.5L1380.7 1282.1L1374.3 1303.4L1359.4 1312L1346.6 1307.7L1340.2 1292.7Z" fill="#00008b"/><path d="M1412.7 1192.4L1423.4 1179.6L1436.2 1166.8L1453.3 1156.2L1470.4 1151.9L1487.4 1154L1504.5 1160.4L1521.6 1162.6L1536.5 1160.4L1551.5 1149.8L1547.2 1132.7L1551.5 1115.6L1568.5 1107.1L1583.5 1109.2L1581.3 1122L1572.8 1132.7L1568.5 1149.8L1560 1162.6L1542.9 1171.1L1525.9 1175.4L1508.8 1179.6L1491.7 1179.6L1474.6 1186L1457.6 1196.7L1436.2 1196.7L1423.4 1209.5L1414.9 1205.2Z" fill="#00008b"/><path d="M1303.9 1256.5L1316.7 1265L1321 1282.1L1329.5 1303.4L1338 1324.8L1329.5 1333.3L1316.7 1341.8L1303.9 1335.4L1297.5 1314.1L1299.6 1292.7L1291.1 1282.1Z" fill="#00008b"/><path d="M1508.8 1388.8L1521.6 1382.4L1538.7 1386.6L1551.5 1397.3L1542.9 1414.4L1525.9 1418.7L1513 1410.1Z" fill="#00008b"/><path d="M1372.2 1365.3L1385 1361L1391.4 1371.7L1385 1384.5L1374.3 1380.2Z" fill="#00008b"/><path d="M1922.9 1132.7L1935.7 1126.3L1957.1 1128.4L1965.6 1139.1L1957.1 1151.9L1940 1154L1927.2 1147.6Z" fill="#00008b"/><path d="M1856.8 1143.4L1873.8 1139.1L1893 1145.5L1888.8 1160.4L1871.7 1164.7L1858.9 1156.2Z" fill="#00008b"/><path d="M1901.6 1205.2L1914.4 1201L1920.8 1209.5L1914.4 1222.3L1903.7 1218Z" fill="#00008b"/><path d="M1841.8 1239.4L1858.9 1237.3L1888.8 1233L1897.3 1239.4L1884.5 1247.9L1863.2 1250.1L1846.1 1247.9Z" fill="#00008b"/><path d="M1935.7 1290.6L1948.5 1282.1L1957.1 1292.7L1952.8 1312L1940 1314.1Z" fill="#00008b"/><path d="M1609.9 1734.5L1589.9 1738.8L1572.8 1728.1L1577.1 1706.8L1572.8 1691.8L1560 1708.9L1551.5 1717.4L1538.7 1717.4L1530.1 1738.8L1517.3 1760.1L1508.8 1781.5L1504.5 1802.8L1508.8 1824.1L1513 1841.2L1609.9 1841.2Z" fill="#00008b"/><path d="M1218.5 1589.4L1242 1587.3L1274 1593.7L1306 1597.9L1321 1606.5L1316.7 1617.1L1295.4 1621.4L1263.4 1623.5L1235.6 1621.4L1218.5 1623.5Z" fill="#00008b"/><path d="M1299.6 1568L1321 1563.8L1338 1572.3L1325.2 1580.9L1303.9 1580.9Z" fill="#00008b"/><path d="M1303.9 1644.9L1329.5 1636.3L1359.4 1638.5L1363.7 1653.4L1346.6 1666.2L1321 1666.2L1306 1657.7Z" fill="#00008b"/><path d="M1590 1734.5L1611.3 1732.4L1615.6 1747.3L1611.3 1760.1L1602.8 1755.9L1590 1760.1Z" fill="#00008b"/><path d="M1590 1807.1L1611.3 1815.6L1632.7 1828.4L1654 1837L1675.4 1841.2L1590 1841.2Z" fill="#00008b"/><path d="M1922.9 1764.4L1940 1755.9L1957.1 1764.4L1974.1 1781.5L1975.2 1802.8L1957.1 1794.3L1940 1781.5Z" fill="#00008b"/><path d="M1931.5 1666.2L1944.3 1662L1952.8 1674.8L1944.3 1691.8L1931.5 1696.1L1927.2 1679Z" fill="#00008b"/><path d="M1585.6 1755.9L1607 1747.3L1609.9 1802.8L1594.1 1798.5Z" fill="#f5f5f5"/></g></g>
<g clip-path="url(#clip4)" fill="none" stroke-linejoin="round" stroke-linecap="round"><path d="M1217.9 1116.4L1238 1121.7L1244.1 1134.9L1217.9 1135.3M1239.2 1123L1249 1122.2L1257.6 1111.9L1275.6 1103.3L1285.4 1107.4L1294.4 1101.6L1298.5 1104.1L1296.5 1107.8L1301 1109L1297.7 1114.4L1310 1118L1314 1113.5L1319 1116L1323.9 1125.4L1328.8 1125.8L1330 1136.1L1329.2 1147.6L1315.7 1157.5L1313.2 1172.3L1330.4 1169.8L1332 1181.3L1339.4 1185.4L1334.9 1195.3L1344.3 1197.7L1347.6 1205.1L1355.8 1202.2L1360.7 1205.1M1310 1118L1304.6 1125.4L1308.7 1132L1296.5 1129.5L1283.4 1137.8L1278.1 1155L1269.5 1174.3L1260.1 1171L1257.6 1194.4L1249.4 1197.7L1251.1 1206.7L1245.7 1205.1M1217.9 1155.4L1249 1159.9L1231 1175.5L1236.7 1185.8L1242.5 1174.7L1246.2 1176.4L1249.4 1196.9M1360.7 1205.1L1346.8 1219.9L1338.6 1218.7L1330.4 1226.9L1320.6 1226.5L1315.7 1242.1L1310.8 1242.9L1315.7 1251.4M1346.8 1219.9L1351.7 1221.5L1352.5 1228.9L1360.7 1229.7L1358.2 1251.4M1362 1208.4L1366.9 1208.4L1366.9 1192.8L1372.6 1192.8L1376.7 1187.9L1384.1 1192L1388.2 1187.9L1395.5 1192L1413.1 1180.1L1420.9 1186.2L1432.3 1187.4L1431.5 1198.5L1444.6 1202.6M1372.6 1192.8L1375.1 1197.7L1378.3 1201.8L1382.4 1201.8L1381.6 1207.6L1384.9 1212.5L1391.4 1215.8L1397.2 1211.3L1403.7 1214.1L1402.1 1218.7L1408.6 1223.2L1405.3 1228.9L1395.5 1229.7L1394.7 1233L1407.8 1238.8L1417.6 1251.4M1341.9 1328.6L1327.2 1349.1L1318.2 1358.1M1337.8 1218.5L1332.1 1226.7L1319.8 1226.7L1316.5 1242.3L1310.8 1242.8L1330.4 1271.1L1332.1 1270.3L1321.4 1286.7L1334.5 1303.1L1337.8 1317.1L1341.1 1328.6M1380.3 1325.3L1374.6 1307.2L1386.1 1296.5L1404.1 1296.1M1408.6 1223.5L1404.5 1228.4L1395.5 1229.2L1394.7 1233.3L1409.4 1240.7L1421.7 1254.7L1429.9 1267.8L1440.5 1274.4L1437.3 1277.7L1443.8 1285L1441.3 1292.4L1434.8 1297.4L1423.4 1295.7L1418.4 1296.5M1441.3 1292.4L1440.5 1304.8L1442.2 1321.2L1434.8 1325.3L1425.8 1328.6L1419.3 1332.7L1421.7 1336L1423.4 1342.5L1415.2 1340.9M1403.7 1296.1L1411.9 1296.1L1413.5 1289.2L1411.9 1284.2L1415.2 1281.8L1418.4 1284.2M1412.7 1341.7L1403.7 1347.5M1338.5 1398.6L1345 1398.6M1348.7 1395.4L1355.2 1397.3L1359.8 1408.4L1368.2 1407.5L1371.9 1401.9M1470.7 1460.5L1480.9 1470.8L1495.7 1468.9L1505.9 1460.5L1520.8 1465.2L1533.7 1461.5L1548.6 1425.2L1583.8 1426.1M1527.2 1423.3L1532.8 1429.8L1536.5 1421.5M1540.2 1420.5L1542.1 1426.1M1871.4 1516.4L1871.4 1597.1M1717.5 1678.6L1717.5 1732.1M1718.1 1713.8L1718.1 1841.6M1718.1 1816.7L1740.5 1816.7M1833.1 1695L1833.1 1816M1730.3 1816.7L1872.1 1816.7L1872.1 1841.6" stroke="#f5c400" stroke-width="1.2"/><path d="M1217.9 1201L1220.8 1195.3L1223.7 1189.9L1226.1 1187.9L1233.1 1187.9L1236.3 1191.6L1239.6 1196.9L1242.9 1202.6L1247 1210L1251.9 1220.7L1254.3 1219.5L1257.2 1215.8L1256.8 1220.7L1260.9 1222.8L1265.8 1225.6L1268.2 1229.7L1264.1 1229.7L1260.5 1232.2L1265 1238L1268.2 1237.1L1269.9 1232.2L1271.5 1238L1274 1246.2L1275.2 1251.4M1220.8 1199.4L1224.1 1192.8L1224.9 1197.7L1226.9 1192.8L1227.7 1196.1M1217.9 1148L1224.9 1143.1M1427.4 1251.4L1418.4 1238L1417.6 1234.7L1420.9 1224.8L1428.2 1220.7L1429.9 1215L1433.2 1215.8L1430.7 1212.5L1440.5 1210.4L1444.6 1203.9L1452 1203.5L1455.2 1200.2L1462.6 1205.9L1468.3 1201.4L1472.8 1205.1L1470.8 1208.4L1469.2 1212.5L1472.4 1221.5L1477.3 1221.5L1478.6 1208.4L1477.3 1205.9L1479.8 1208.4L1494.5 1204.3L1496.1 1201L1504.3 1201L1506 1198.5L1511.7 1199.4L1515.5 1196.9M1414.3 1206.3L1427.4 1219.5M1464.2 1224.4L1485.5 1223.2L1487.1 1228.1L1479.8 1241.2L1467.5 1247.8L1461 1244.5L1456.1 1233.9L1464.2 1224.4M1474.5 1180.1L1491.2 1178.8L1494.5 1182.9L1509.2 1182.9L1512.5 1188.7L1515.5 1192M1275.2 1251.4L1276.5 1254.7L1273.6 1264.5L1271.5 1275.2L1274.8 1276L1274 1271.9L1278.9 1276.8L1282.2 1274.4L1286.3 1279.3L1288.7 1273.6L1296.9 1269.4L1294.4 1265.3L1298.5 1267L1305.1 1264.5L1305.1 1256.3L1309.2 1263.7L1312.4 1267.8L1316.5 1268.6L1318.2 1284.2L1319.8 1294.1L1321.4 1304.8L1323.9 1303.1L1323.9 1308L1328.8 1316.3L1327.2 1325.3L1330.4 1330.2L1327.2 1339.3L1325.5 1346.6L1327.2 1353.2L1323.9 1365.5L1323.9 1374.6L1327.2 1376.2L1332.1 1379.8M1348.4 1379.8L1345.2 1370.5L1342.7 1363.1L1336.2 1359.8L1334.5 1353.2L1335.4 1346.6L1341.9 1331.9L1344.8 1325.3L1343.9 1308.9L1358.3 1307.2L1358.3 1317.1L1368.1 1317.9L1380.3 1325.3L1382.8 1333.5L1386.1 1341.7L1390.2 1337.6L1391.8 1345L1399.2 1348.3L1410.6 1354M1351.7 1218.5L1352.5 1229.2L1361.5 1230L1356.6 1254.7L1359.9 1255.5L1371.3 1246.9L1378.7 1252.2L1384.4 1246L1388.5 1243.2L1396.7 1244.8L1407.3 1257.9L1406.5 1267.8L1415.5 1276M1428.3 1219.3L1420.9 1225.1L1417.6 1237.4L1428.3 1251.4L1435.6 1262.1L1441.3 1267L1452.8 1272.7L1460.2 1284.2L1463.4 1300.7L1465.9 1317.1L1462.6 1319.5L1461 1335.1L1438.1 1347.5L1433.2 1346.6L1433.2 1338.4L1430.7 1349.9L1428.3 1346.6L1430.7 1353.2L1426.6 1351.6L1429.1 1358.1L1423.4 1354.9L1421.7 1359.8L1409.4 1366.4L1406.2 1365.5L1410.3 1353.2L1404.5 1349.9L1394.7 1345L1390.6 1339.3L1387.4 1341.7L1382.4 1333.5M1407 1267.8L1414.4 1275.2L1418.4 1284.2L1420.9 1295.7L1421.7 1308.9L1420.9 1321.2L1413.5 1326.1L1409.4 1331.9L1411.1 1340.1L1416.8 1345.8L1425 1349.9M1402.9 1319.5L1408.6 1333.5M1505.2 1182.9L1509.3 1183.3L1514.2 1192.8L1511.4 1192.8L1510.9 1198.5L1506.9 1198.5M1514.2 1192.8L1517.5 1183.8L1525.7 1192.8L1523.2 1194.4L1526.5 1195.3L1536.3 1187L1536.3 1191.1L1542 1186.2L1545.3 1189.5L1555.9 1185.4L1559.2 1182.1L1556.8 1179.6L1567.4 1177.2L1567.4 1173.1L1570.7 1176.4L1578 1169L1573.9 1165.7L1583.8 1165.7L1582.1 1160.8L1588.7 1161.6L1586.2 1156.6L1593.6 1157.5L1591.9 1151.7L1597.7 1155L1596 1147.6L1600.1 1142.7L1596 1136.1L1602.6 1138.6L1612.4 1122.2L1609.9 1119.3L1623 1117.2L1619.7 1112.3L1625.5 1109L1619.7 1106.5L1627.1 1104.1L1620.6 1101.6L1627.9 1099.2L1629.6 1096.3M1547.8 1096.3L1554.3 1097.5L1551 1099.2L1549.8 1104.9L1556.8 1111.1L1560 1106.1L1553.9 1104.1M1622.2 1155L1627.9 1159.1L1614 1196.9L1611.6 1196.1L1602.6 1183.8L1603.4 1176.4L1622.2 1155M1609.7 1241.9L1632.4 1244.1L1628.9 1252.5L1634.1 1263.9L1619.3 1284L1622.8 1294.6L1630.6 1300.7L1628.9 1298.1L1636.7 1296.3L1640.2 1301.6L1643.7 1305.1L1647.2 1300.7L1652.4 1304.2L1646.3 1306.8L1648.1 1312.1L1655.1 1313L1656.8 1316.5L1659.4 1320L1668.2 1319.1L1673.4 1324.4L1676 1339.3L1667.3 1335.8L1666.4 1328.8L1659.4 1321.7L1653.3 1318.2L1651.6 1313.9L1644.6 1313.9L1637.6 1305.1L1633.2 1301.6L1635.9 1312.1L1624.5 1301.6L1617.5 1306.8L1610.5 1303.3L1613.1 1291.9L1608.8 1291.1L1607.9 1295.4L1601.8 1290.2L1602.7 1285.8L1600 1281.4L1598.3 1275.3L1600 1270L1602.7 1272.6L1608.8 1272.6L1609.7 1241.9M1626.2 1327.9L1639.3 1334L1642.8 1331.4L1642 1338.4L1628 1347.2L1626.2 1327.9M1642.8 1339.3L1647.2 1342.8L1644.6 1362.1L1640.2 1365.6L1632.4 1355.1L1639.3 1349.8L1642.8 1339.3M1680.4 1401L1687.4 1385.8L1684.8 1372.6L1680.4 1369.1L1682.1 1360.3L1671.7 1355.1L1672.5 1365.6L1662.9 1365.6L1663.8 1370.8L1657.7 1370.8L1649 1377.9L1652.4 1373.5L1644.6 1368.7L1628.9 1378.7L1632.4 1383.1L1626.2 1394.5L1629.7 1398L1635.9 1384.9L1644.6 1389.3L1649 1382.2L1656.8 1387.5L1655.1 1401M1672.5 1401L1670.8 1392.8L1675.2 1387.5L1678.7 1395.4L1680.4 1401M1564.2 1377L1573.8 1369.1L1586.1 1354.2L1591.3 1348L1592.2 1341L1594.8 1334L1598.3 1346.3L1593.9 1348L1581.7 1362.1L1566 1377.9L1564.2 1377M1325.5 1367.5L1322.8 1374.9L1327.4 1373.1L1334.8 1383.3L1345 1394.5L1348.7 1395.4L1349.6 1406.6L1352.4 1425.2L1360.8 1443.8L1379.3 1456.8L1390.4 1464.7L1399.7 1463.8L1393.2 1451.2L1389.5 1443.8L1390 1423.3L1384.9 1413.1L1373.7 1401.9L1365.4 1393.5L1350.6 1389.8L1346.9 1376.8L1345.9 1367.5M1392.3 1463.3L1396 1459.6L1399.7 1463.8M1283.3 1409.4L1311.6 1413.1L1322.8 1423.3L1320.9 1428L1345 1442.9L1356.1 1457.8L1358.9 1451.2L1360.8 1456.8L1374.7 1468.9L1381.2 1471.7L1384.9 1475.4L1379.3 1479.2L1384.9 1475.4L1389.5 1474.5L1393.2 1478.2L1387.7 1490.3L1401.6 1495L1403.4 1507.1L1408 1509.9L1405.3 1516.4L1408 1511.7L1418.2 1512.7L1423.8 1525.7L1422 1535L1419.2 1550.3M1283.3 1409.4L1287.5 1420.5L1304.2 1433.6L1316.3 1451.2L1329.2 1457.8L1333.9 1477.3L1348.7 1491.3L1366.3 1522L1397.8 1550.3M1411.8 1509L1413.6 1502.4L1422.9 1501.5L1427.5 1514.5L1433.1 1515.5L1431.2 1521.1L1422 1518.3L1418.2 1509.9L1411.8 1509M1468.8 1454L1461.4 1462.4L1458.6 1468L1460 1478.2L1464.2 1481L1461.4 1487.5L1467.9 1490.3L1468.8 1495L1465.1 1497.8L1473.5 1496.9L1476.3 1518.3L1494.8 1517.3L1498.5 1527.6L1512.4 1519.2L1519.8 1522L1519.8 1525.7L1531.9 1525.7L1532.8 1535L1552.3 1522.9L1551.3 1518.3L1554.1 1521.1L1558.8 1509.9L1553.2 1504.3L1558.8 1496.9L1561.5 1497.8L1571.7 1491.3L1570.8 1481L1577.3 1469.9L1574.5 1467.1L1581.9 1469.9L1589.4 1468.5L1572.7 1456.8L1577.3 1451.2L1563.4 1435.4L1573.6 1433.6L1568 1428L1583.8 1425.2L1578.2 1417.7L1592.1 1412.1L1580.1 1405.6L1575.5 1408.4L1577.3 1403.8L1570.8 1404.7L1572.7 1398.2L1565.3 1390.7L1561.5 1396.3L1559.7 1390.7L1548.6 1409.4L1542.1 1411.2L1545.8 1414L1543 1417.7L1524.5 1421.5L1512.4 1440.1L1492.9 1445.7L1489.2 1463.3L1473.5 1459.6L1468.8 1454M1663.1 1367.5L1662.2 1371.2L1656.6 1372.1L1651 1376.8L1647.3 1373.1L1644.6 1369.3L1630.6 1378.6L1626 1389.8L1629.7 1392.6L1635.3 1381.4L1646.4 1386.1L1651 1381.4L1656.6 1386.1L1653.8 1397.3L1665.9 1405.6L1669.6 1402.8L1671.4 1409.4L1675.1 1404.7L1671.4 1395.4L1675.1 1387L1681.6 1400L1680.7 1392.6L1686.3 1386.1L1684.4 1372.1L1679.8 1369.3L1680.7 1367.5M1587.1 1516.4L1592.6 1506.2L1593.6 1497.8L1600 1491.3L1597.3 1482.9L1601.9 1476.4L1604.7 1468.9L1608.4 1470.8L1614 1463.3L1652.9 1470.8L1668.7 1459.2L1658.5 1475.4L1605.6 1475.9L1602.8 1488.5L1610.2 1497.8L1615.8 1499.6L1622.3 1491.3L1646.4 1491.3L1618.6 1506.2L1634.4 1522L1628.8 1528.5L1639 1537.8L1626.9 1539.7L1624.2 1544.3L1621.4 1534.1L1612.1 1525.7L1614.9 1514.5L1610.2 1515.5L1603.8 1520.1L1607.5 1550.3M1587.1 1525.7L1595.4 1526.6L1595.4 1550.3M1703.9 1452.2L1703.9 1460.5L1697.4 1468L1701.1 1483.8L1710.4 1493.1L1704.8 1483.8L1703.9 1475.4L1716.9 1478.2L1708.5 1469.9L1714.1 1466.1L1714.1 1460.5L1705.7 1465.2L1703.9 1460.5M1703 1527.6L1705.7 1521.1L1717.8 1517.3L1735.4 1520.1L1741.9 1531.3L1728.9 1523.8L1710.4 1525.7L1707.6 1522L1703 1527.6M1587.1 1410.3L1592.6 1412.6L1587.1 1415.9M1741.9 1498.6L1747.4 1491.1L1761.7 1485.6L1782.1 1490.4L1784.2 1513.6L1788.3 1519.1L1789.6 1513.6L1796.4 1525.3L1804.6 1522.5L1812.8 1509.5L1822.3 1507.5L1822.3 1504.1L1831.9 1500L1859.2 1510.2L1917.8 1530.1L1932.8 1543.8L1932.8 1552L1958.7 1560.9L1960 1567L1949.1 1568.4L1951.9 1576.6L1962.8 1583.5L1971 1598.5L1977.8 1597.8L1979.1 1603.3L1983.2 1603.3L1984.6 1609.5L1987.3 1609.5M1741.9 1498.6L1755.5 1500L1759.6 1510.9L1780.1 1508.8L1777.3 1515L1771.9 1512.3L1765.1 1518.4L1755.5 1517.7L1766.4 1521.9L1767.8 1534.2L1776 1530.1L1778.7 1519.1L1777.3 1528.7L1792.3 1532.8L1789.6 1535.5L1797.8 1538.3L1834.6 1550.6L1834.6 1556.1L1838.7 1555.4L1841.4 1567L1845.5 1569.1L1840.1 1571.1L1848.9 1573.2L1844.2 1575.2L1846.2 1584.8L1857.8 1584.8L1859.8 1584.8L1873.5 1600.6L1887.1 1598.5L1892.6 1601.9L1902.1 1594.4L1887.8 1586.9L1906.2 1586.9L1909.6 1582.8L1906.2 1577.3L1913.7 1581.4L1917.8 1576.6L1921.9 1582.1L1936.9 1585.5L1957.3 1610.8L1987.3 1617M1846.2 1579.3L1834.6 1578.7L1827.8 1589.6L1846.2 1584.8M1987.3 1550.6L1965.5 1552.7L1981.9 1562.9L1987.3 1560.9M1740.5 1643.7L1744.6 1637.5L1748.7 1640.3L1765.1 1636.8L1765.8 1631.4L1756.2 1624.5L1752.1 1626.6M1765.8 1631.4L1774.6 1634.1L1780.1 1632.7L1784.2 1638.9L1789.6 1635.5L1797.8 1640.3L1806 1636.2L1808.7 1642.3L1814.8 1634.1L1819.6 1640.3L1814.2 1643.7L1812.8 1651.9L1806 1652.6L1807.3 1658.7L1799.8 1673.8L1816.9 1685.4L1845.5 1697.1L1855.1 1707.3L1866 1708L1874.2 1688.9L1879.6 1675.2L1876.9 1661.5L1883.7 1645.1L1878.9 1643L1884.4 1636.8L1887.1 1621.8L1890.5 1619L1894.6 1625.9L1903.5 1645.1L1907.6 1667.6L1916.4 1664.2L1928.7 1675.2L1930.1 1694.3L1936.2 1699.8L1941 1723.9M1413.1 1508.3L1419.7 1510.5L1425.2 1510.5L1426.2 1514.4L1432.8 1515.5L1431.2 1519.8L1423.5 1518.7L1422.4 1539L1419.7 1548.9L1417.5 1556.6L1413.1 1554.4M1413.1 1569.7L1419.7 1565.3L1423.5 1557.1L1450.3 1560.4L1459 1569.7L1478.6 1570.8L1486.3 1563.7L1505.9 1569.2L1514.7 1581.8L1531 1582.3L1530.5 1586.2L1532.1 1593.8L1517.9 1591.1L1474.3 1584.5L1456.8 1579L1447 1580.7L1428.4 1575.7L1428.4 1570.8L1419.7 1569.2L1413.1 1569.7M1593.3 1506.1L1585.6 1517.6L1588.9 1526.4L1595.5 1527L1595.5 1553.3L1608.6 1553.3L1606.4 1520.4L1607.5 1517.1L1612.9 1516L1615.1 1527L1617.7 1530.3M1560.5 1593.3L1564.9 1589.4L1573.6 1590.5L1572.5 1586.7L1580.2 1588.3L1592.2 1592.2L1578 1595.5L1564.9 1598.2L1560.5 1593.3M1615.5 1516.4L1613.3 1523L1619.8 1529.6L1623.1 1542.7L1627.5 1544.4L1628.6 1538.3L1639.5 1537.2L1631.8 1528.5L1634 1521.9L1628.6 1516.4M1599.1 1593.7L1606.7 1587.7L1619.8 1592L1635.1 1589.3L1640.6 1587.7L1638.4 1586L1635.1 1590.9L1623.1 1596.4L1608.9 1594.8L1599.1 1593.7M1588.2 1604.1L1600.2 1600.8L1612.2 1610.7L1607.8 1615.1L1602.4 1611.2L1588.2 1604.1M1646 1615.1L1649.3 1605.2L1667.9 1592L1696.2 1588.8L1679.9 1599.7L1655.8 1615.1L1646 1615.1M1632.9 1713.7L1629.6 1702.7L1639.5 1692.9L1643.8 1702.7L1648.2 1709.3L1646.6 1702.7L1652.6 1704.9L1651.5 1698.4L1646 1697.3L1648.2 1690.7L1665.7 1691.8L1658 1687.4L1662.4 1685.2L1656.9 1683L1661.3 1677.5L1668.9 1681.9L1672.2 1676.4L1667.9 1672.1L1674.4 1664.4L1677.7 1671L1679.9 1661.1L1683.1 1665.5L1685.3 1661.1L1687.5 1665.5L1690.8 1658.9L1698.4 1662.2L1707.2 1672.1L1705 1680.8L1707.2 1677.5L1709.3 1680.8L1710.4 1672.1L1717 1669.9L1719.2 1678.6L1722.4 1672.1L1725.7 1677.5L1730.1 1671L1722.4 1666.6L1729 1654.5L1734.5 1653.4L1735.5 1643.6L1738.8 1644.7L1737.7 1640.3L1742.1 1644.7L1741 1640.3L1747.6 1637L1749.7 1639.2L1763.9 1638.1L1766.1 1631.5L1753 1627.1L1755.2 1624.4L1766.1 1628.2L1777 1632.6L1780.3 1631.5L1784.7 1638.1L1791.7 1635.9M1527.7 1841.6L1520.6 1825.3L1513.5 1818.1L1523.4 1823.1L1523.4 1810.3L1527.7 1820.3L1522.7 1808.9L1517.1 1796.1L1524.2 1763.3L1529.1 1771.9L1532 1763.3L1560.3 1745.5L1568.1 1749.8L1590.8 1738.4L1616.3 1732.7L1632.9 1713.8M1927.4 1680.8L1928.1 1692.2L1935.2 1699.3L1938.7 1723.5L1971.4 1742L1982.7 1771.9L1987 1770.5M1397.9 1550.3L1406 1552.9L1413.1 1554.4L1417.5 1556.6" stroke="#ffd500" stroke-width="2.4"/></g>
<path d="M1344.9 1096V1840.6M1473.3 1096V1840.6M1601.7 1096V1840.6M1730.1 1096V1840.6M1858.5 1096V1840.6M1217.4 1198.8H1974.4M1217.4 1327.2H1974.4M1217.4 1455.6H1974.4M1217.4 1584H1974.4M1217.4 1712.4H1974.4" fill="none" stroke="#000" stroke-width="1.9" stroke-dasharray="1.9 1.8"/>
<rect x="1217.4" y="1096" width="757" height="744.6" fill="none" stroke="#000" stroke-width="1.6"/>
<g font-family="'DejaVu Sans', 'Liberation Sans', sans-serif" font-size="21.5" fill="#111"><text x="1208.9" y="1205.2" text-anchor="end">22°N</text><text x="1208.9" y="1333.7" text-anchor="end">12°N</text><text x="1208.9" y="1462" text-anchor="end">2°N</text><text x="1208.9" y="1590.5" text-anchor="end">8°S</text><text x="1208.9" y="1718.9" text-anchor="end">18°S</text><text x="1208.9" y="1847.2" text-anchor="end">28°S</text><text x="1217" y="1866.4" text-anchor="middle">90°E</text><text x="1345.4" y="1866.4" text-anchor="middle">100°E</text><text x="1473.8" y="1866.4" text-anchor="middle">110°E</text><text x="1602.2" y="1866.4" text-anchor="middle">120°E</text><text x="1730.6" y="1866.4" text-anchor="middle">130°E</text><text x="1859" y="1866.4" text-anchor="middle">140°E</text></g>
</g>
<g font-family="'Liberation Serif', 'DejaVu Serif', serif" fill="#000"><text x="209.4" y="50.7" font-size="43.8" textLength="480.6" lengthAdjust="spacingAndGlyphs">FY-4A Reflectance-0.65μm</text><text x="269.5" y="97.1" font-size="43.6" textLength="382" lengthAdjust="spacingAndGlyphs">UTC 20230101 04:00</text><text x="1212.5" y="58.4" font-size="43.6" textLength="728.5" lengthAdjust="spacingAndGlyphs">Cloud Mask Differences(CACM-Net/H9)</text><text x="1397.8" y="105.3" font-size="43.5" textLength="381" lengthAdjust="spacingAndGlyphs">UTC 20230101 04:00</text><text x="65" y="1089.3" font-size="45.7" textLength="894.5" lengthAdjust="spacingAndGlyphs">Cloud Mask (CACM-Net) UTC 20230101 04:00</text><text x="1236.7" y="1081" font-size="44.6" textLength="717" lengthAdjust="spacingAndGlyphs">Cloud Mask (H9) UTC 20230101 04:00</text><text x="509" y="1018.4" font-size="38" text-anchor="middle">(<tspan font-weight="bold">e</tspan>)</text><text x="1577" y="1018.3" font-size="38" text-anchor="middle">(<tspan font-weight="bold">f</tspan>)</text><text x="508.5" y="2071.7" font-size="38" text-anchor="middle">(<tspan font-weight="bold">g</tspan>)</text><text x="1576.7" y="2073" font-size="38" text-anchor="middle">(<tspan font-weight="bold">h</tspan>)</text><text x="1433.8" y="962.5" font-size="25.5" text-anchor="middle">Clear Shift</text><text x="1591" y="963.6" font-size="25.5" text-anchor="middle">No Shift</text><text x="1744.7" y="960.6" font-size="25.5" text-anchor="middle">Cloudy Shift</text><text x="308.3" y="2002.7" font-size="25.5" text-anchor="middle">Clear</text><text x="465" y="1989.9" font-size="25.5" text-anchor="middle">Probably</text><text x="468" y="2021.9" font-size="25.5" text-anchor="middle">Clear</text><text x="620" y="1992" font-size="25.5" text-anchor="middle">Probably</text><text x="620" y="2024" font-size="25.5" text-anchor="middle">Cloudy</text><text x="775.5" y="2007.8" font-size="25.5" text-anchor="middle">Cloudy</text><text x="1369.9" y="1985.7" font-size="25.5" text-anchor="middle">Clear</text><text x="1525.5" y="1972" font-size="25.5" text-anchor="middle">Probably</text><text x="1528.5" y="2004" font-size="25.5" text-anchor="middle">Clear</text><text x="1679.9" y="1974.1" font-size="25.5" text-anchor="middle">Probably</text><text x="1679.9" y="2005.7" font-size="25.5" text-anchor="middle">Cloudy</text><text x="1834.2" y="1990.8" font-size="25.5" text-anchor="middle">Cloudy</text></g><rect x="1385.4" y="885.6" width="95.9" height="26.1" fill="#ff0000"/><rect x="1540.7" y="884.9" width="97" height="26.8" fill="#47ee8c"/><rect x="1695.5" y="883.7" width="97.8" height="28" fill="#0000ff"/><rect x="259.9" y="1935.7" width="99.4" height="29" fill="#000080"/><rect x="414.7" y="1935.7" width="100.2" height="29" fill="#0000d0"/><rect x="570.4" y="1935.7" width="100.2" height="29" fill="#d4d0ce"/><rect x="725.6" y="1935.7" width="99.8" height="29" fill="#f6f6f6"/><rect x="1321.7" y="1918.6" width="98.9" height="28.7" fill="#000080"/><rect x="1475.6" y="1918.6" width="99.8" height="28.7" fill="#0000d0"/><rect x="1630" y="1918.6" width="100.2" height="28.7" fill="#d4d0ce"/><rect x="1785.2" y="1918.6" width="98.9" height="28.7" fill="#f6f6f6"/><rect x="898.6" y="117.3" width="36.6" height="718.6" fill="url(#cbar)" stroke="#000" stroke-width="1.4"/><path d="M935.2 117.3H943.6M935.2 261H943.6M935.2 404.7H943.6M935.2 548.5H943.6M935.2 692.2H943.6M935.2 835.9H943.6" stroke="#000" stroke-width="1.4" fill="none"/><g font-family="'DejaVu Sans', 'Liberation Sans', sans-serif" font-size="21" fill="#111"><text x="950.5" y="124.9">1. 0</text><text x="950.5" y="268.6">0. 8</text><text x="950.5" y="412.3">0. 6</text><text x="950.5" y="556.1">0. 4</text><text x="950.5" y="699.8">0. 2</text><text x="950.5" y="843.5">0. 0</text></g>
</svg>
</body></html>
